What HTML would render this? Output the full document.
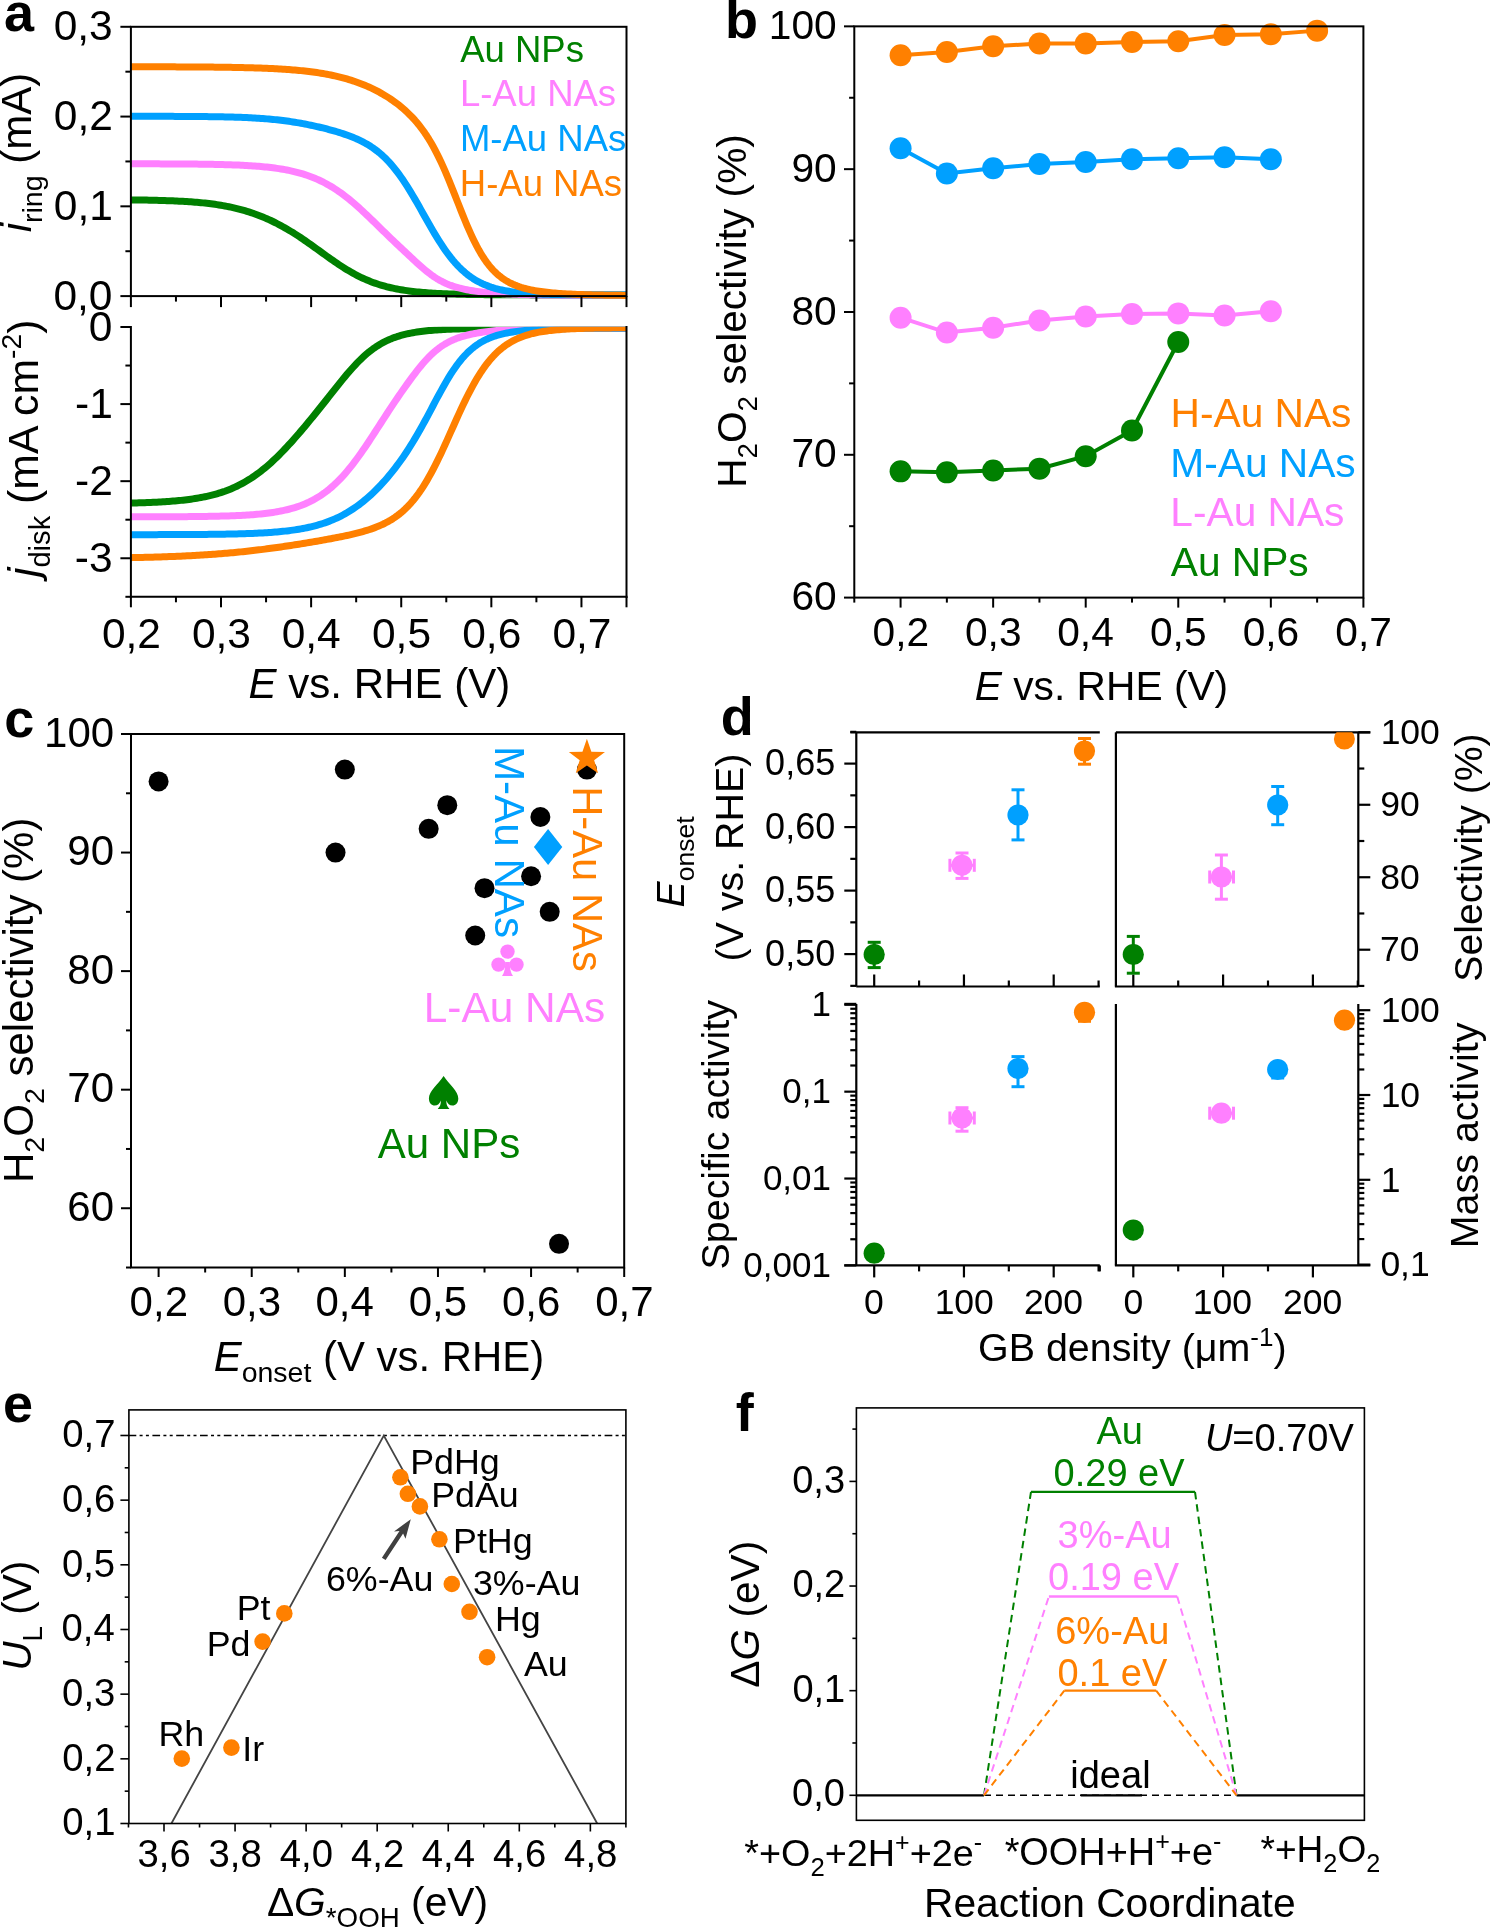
<!DOCTYPE html>
<html><head><meta charset="utf-8"><style>
html,body{margin:0;padding:0;background:#fff;width:1491px;height:1929px;overflow:hidden}
svg{display:block;will-change:transform}
text{font-family:"Liberation Sans", sans-serif}
</style></head><body>
<svg xmlns="http://www.w3.org/2000/svg" width="1491" height="1929" viewBox="0 0 1491 1929" font-family="Liberation Sans, sans-serif">
<text x="3.92" y="30.51" font-size="54" fill="#000" font-weight="bold"><tspan>a</tspan></text>
<clipPath id="ca2"><rect x="130" y="326.8" width="497" height="272"/></clipPath>
<g fill="none" stroke-linejoin="round">
<polyline points="130.9,199.89 132.9,199.91 134.9,199.94 136.9,199.96 138.9,199.99 140.9,200.02 142.9,200.05 144.9,200.08 146.9,200.12 148.9,200.16 150.9,200.2 152.9,200.24 154.9,200.29 156.9,200.34 158.9,200.39 160.9,200.44 162.9,200.5 164.9,200.56 166.9,200.63 168.9,200.7 170.9,200.78 172.9,200.86 174.9,200.94 176.9,201.04 178.9,201.13 180.9,201.24 182.9,201.35 184.9,201.46 186.9,201.59 188.9,201.72 190.9,201.86 192.9,202 194.9,202.16 196.9,202.33 198.9,202.5 200.9,202.69 202.9,202.89 204.9,203.1 206.9,203.32 208.9,203.56 210.9,203.8 212.9,204.07 214.9,204.34 216.9,204.63 218.9,204.94 220.9,205.27 222.9,205.61 224.9,205.97 226.9,206.35 228.9,206.74 230.9,207.16 232.9,207.6 234.9,208.06 236.9,208.54 238.9,209.04 240.9,209.57 242.9,210.12 244.9,210.69 246.9,211.29 248.9,211.91 250.9,212.56 252.9,213.24 254.9,213.94 256.9,214.67 258.9,215.43 260.9,216.21 262.9,217.02 264.9,217.86 266.9,218.73 268.9,219.63 270.9,220.55 272.9,221.51 274.9,222.49 276.9,223.5 278.9,224.54 280.9,225.61 282.9,226.71 284.9,227.83 286.9,228.98 288.9,230.16 290.9,231.37 292.9,232.6 294.9,233.86 296.9,235.14 298.9,236.44 300.9,237.77 302.9,239.12 304.9,240.49 306.9,241.87 308.9,243.27 310.9,244.69 312.9,246.11 314.9,247.55 316.9,248.99 318.9,250.44 320.9,251.89 322.9,253.33 324.9,254.78 326.9,256.22 328.9,257.65 330.9,259.06 332.9,260.47 334.9,261.85 336.9,263.21 338.9,264.56 340.9,265.87 342.9,267.16 344.9,268.43 346.9,269.66 348.9,270.85 350.9,272.02 352.9,273.15 354.9,274.24 356.9,275.3 358.9,276.32 360.9,277.3 362.9,278.24 364.9,279.15 366.9,280.02 368.9,280.85 370.9,281.64 372.9,282.4 374.9,283.12 376.9,283.81 378.9,284.46 380.9,285.08 382.9,285.67 384.9,286.23 386.9,286.76 388.9,287.26 390.9,287.73 392.9,288.18 394.9,288.6 396.9,289 398.9,289.37 400.9,289.72 402.9,290.05 404.9,290.36 406.9,290.66 408.9,290.93 410.9,291.19 412.9,291.43 414.9,291.66 416.9,291.87 418.9,292.07 420.9,292.26 422.9,292.44 424.9,292.6 426.9,292.75 428.9,292.9 430.9,293.03 432.9,293.16 434.9,293.28 436.9,293.39 438.9,293.49 440.9,293.59 442.9,293.68 444.9,293.76 446.9,293.84 448.9,293.91 450.9,293.98 452.9,294.04 454.9,294.1 456.9,294.16 458.9,294.21 460.9,294.26 462.9,294.31 464.9,294.35 466.9,294.39 468.9,294.42 470.9,294.46 472.9,294.49 474.9,294.52 476.9,294.55 478.9,294.58 480.9,294.6 482.9,294.62 484.9,294.64 486.9,294.66 488.9,294.68 490.9,294.7 492.9,294.72 494.9,294.73 496.9,294.74 498.9,294.76 500.9,294.77 502.9,294.78 504.9,294.79 506.9,294.8 508.9,294.81 510.9,294.82 512.9,294.83 514.9,294.83 516.9,294.84 518.9,294.85 520.9,294.85 522.9,294.86 524.9,294.87 526.9,294.87 528.9,294.87 530.9,294.88 532.9,294.88 534.9,294.89 536.9,294.89 538.9,294.89 540.9,294.9 542.9,294.9 544.9,294.9 546.9,294.9 548.9,294.91 550.9,294.91 552.9,294.91 554.9,294.91 556.9,294.91 558.9,294.92 560.9,294.92 562.9,294.92 564.9,294.92 566.9,294.92 568.9,294.92 570.9,294.92 572.9,294.92 574.9,294.93 576.9,294.93 578.9,294.93 580.9,294.93 582.9,294.93 584.9,294.93 586.9,294.93 588.9,294.93 590.9,294.93 592.9,294.93 594.9,294.93 596.9,294.93 598.9,294.93 600.9,294.93 602.9,294.93 604.9,294.93 606.9,294.93 608.9,294.93 610.9,294.93 612.9,294.93 614.9,294.93 616.9,294.94 618.9,294.94 620.9,294.94 622.9,294.94 624.9,294.94 626.5,294.94" stroke="#008000" stroke-width="7"/>
<polyline points="130.9,163.81 132.9,163.82 134.9,163.82 136.9,163.82 138.9,163.82 140.9,163.83 142.9,163.83 144.9,163.84 146.9,163.84 148.9,163.84 150.9,163.85 152.9,163.85 154.9,163.86 156.9,163.87 158.9,163.87 160.9,163.88 162.9,163.89 164.9,163.89 166.9,163.9 168.9,163.91 170.9,163.92 172.9,163.93 174.9,163.94 176.9,163.95 178.9,163.96 180.9,163.98 182.9,163.99 184.9,164 186.9,164.02 188.9,164.04 190.9,164.05 192.9,164.07 194.9,164.09 196.9,164.12 198.9,164.14 200.9,164.16 202.9,164.19 204.9,164.22 206.9,164.25 208.9,164.28 210.9,164.32 212.9,164.35 214.9,164.39 216.9,164.43 218.9,164.48 220.9,164.53 222.9,164.58 224.9,164.63 226.9,164.69 228.9,164.75 230.9,164.81 232.9,164.88 234.9,164.96 236.9,165.04 238.9,165.12 240.9,165.21 242.9,165.31 244.9,165.41 246.9,165.52 248.9,165.64 250.9,165.77 252.9,165.9 254.9,166.04 256.9,166.19 258.9,166.35 260.9,166.52 262.9,166.7 264.9,166.9 266.9,167.1 268.9,167.32 270.9,167.56 272.9,167.8 274.9,168.07 276.9,168.35 278.9,168.64 280.9,168.96 282.9,169.3 284.9,169.65 286.9,170.03 288.9,170.43 290.9,170.85 292.9,171.3 294.9,171.78 296.9,172.28 298.9,172.82 300.9,173.38 302.9,173.97 304.9,174.6 306.9,175.26 308.9,175.96 310.9,176.7 312.9,177.47 314.9,178.29 316.9,179.14 318.9,180.04 320.9,180.98 322.9,181.97 324.9,183 326.9,184.08 328.9,185.2 330.9,186.37 332.9,187.59 334.9,188.86 336.9,190.18 338.9,191.55 340.9,192.96 342.9,194.42 344.9,195.93 346.9,197.48 348.9,199.08 350.9,200.72 352.9,202.4 354.9,204.12 356.9,205.88 358.9,207.67 360.9,209.49 362.9,211.33 364.9,213.21 366.9,215.1 368.9,217.01 370.9,218.94 372.9,220.88 374.9,222.83 376.9,224.78 378.9,226.74 380.9,228.69 382.9,230.65 384.9,232.59 386.9,234.54 388.9,236.47 390.9,238.4 392.9,240.31 394.9,242.22 396.9,244.12 398.9,246.02 400.9,247.9 402.9,249.78 404.9,251.66 406.9,253.53 408.9,255.4 410.9,257.27 412.9,259.12 414.9,260.97 416.9,262.8 418.9,264.61 420.9,266.39 422.9,268.14 424.9,269.83 426.9,271.48 428.9,273.06 430.9,274.57 432.9,276.01 434.9,277.36 436.9,278.64 438.9,279.83 440.9,280.95 442.9,281.98 444.9,282.95 446.9,283.83 448.9,284.66 450.9,285.42 452.9,286.12 454.9,286.76 456.9,287.36 458.9,287.92 460.9,288.43 462.9,288.9 464.9,289.34 466.9,289.74 468.9,290.12 470.9,290.47 472.9,290.79 474.9,291.09 476.9,291.37 478.9,291.64 480.9,291.88 482.9,292.11 484.9,292.32 486.9,292.52 488.9,292.7 490.9,292.87 492.9,293.03 494.9,293.18 496.9,293.32 498.9,293.46 500.9,293.58 502.9,293.69 504.9,293.8 506.9,293.9 508.9,294 510.9,294.09 512.9,294.17 514.9,294.25 516.9,294.32 518.9,294.39 520.9,294.45 522.9,294.51 524.9,294.56 526.9,294.62 528.9,294.67 530.9,294.71 532.9,294.75 534.9,294.79 536.9,294.83 538.9,294.87 540.9,294.9 542.9,294.93 544.9,294.96 546.9,294.99 548.9,295.01 550.9,295.04 552.9,295.06 554.9,295.08 556.9,295.1 558.9,295.12 560.9,295.13 562.9,295.15 564.9,295.17 566.9,295.18 568.9,295.19 570.9,295.2 572.9,295.22 574.9,295.23 576.9,295.24 578.9,295.25 580.9,295.26 582.9,295.26 584.9,295.27 586.9,295.28 588.9,295.29 590.9,295.29 592.9,295.3 594.9,295.3 596.9,295.31 598.9,295.31 600.9,295.32 602.9,295.32 604.9,295.33 606.9,295.33 608.9,295.33 610.9,295.34 612.9,295.34 614.9,295.34 616.9,295.35 618.9,295.35 620.9,295.35 622.9,295.35 624.9,295.36 626.5,295.36" stroke="#FF80FF" stroke-width="7"/>
<polyline points="130.9,116.3 132.9,116.3 134.9,116.3 136.9,116.3 138.9,116.3 140.9,116.3 142.9,116.31 144.9,116.31 146.9,116.31 148.9,116.31 150.9,116.32 152.9,116.32 154.9,116.32 156.9,116.33 158.9,116.33 160.9,116.34 162.9,116.34 164.9,116.35 166.9,116.35 168.9,116.36 170.9,116.36 172.9,116.37 174.9,116.38 176.9,116.39 178.9,116.39 180.9,116.4 182.9,116.41 184.9,116.42 186.9,116.43 188.9,116.45 190.9,116.46 192.9,116.47 194.9,116.49 196.9,116.5 198.9,116.52 200.9,116.54 202.9,116.56 204.9,116.58 206.9,116.6 208.9,116.63 210.9,116.65 212.9,116.68 214.9,116.71 216.9,116.74 218.9,116.78 220.9,116.82 222.9,116.86 224.9,116.9 226.9,116.94 228.9,116.99 230.9,117.04 232.9,117.1 234.9,117.16 236.9,117.22 238.9,117.29 240.9,117.36 242.9,117.44 244.9,117.52 246.9,117.61 248.9,117.71 250.9,117.81 252.9,117.91 254.9,118.03 256.9,118.15 258.9,118.28 260.9,118.41 262.9,118.56 264.9,118.71 266.9,118.87 268.9,119.04 270.9,119.22 272.9,119.41 274.9,119.61 276.9,119.82 278.9,120.05 280.9,120.28 282.9,120.53 284.9,120.78 286.9,121.05 288.9,121.33 290.9,121.63 292.9,121.93 294.9,122.25 296.9,122.58 298.9,122.92 300.9,123.27 302.9,123.64 304.9,124.02 306.9,124.41 308.9,124.81 310.9,125.23 312.9,125.66 314.9,126.1 316.9,126.55 318.9,127.01 320.9,127.48 322.9,127.97 324.9,128.47 326.9,128.98 328.9,129.51 330.9,130.05 332.9,130.6 334.9,131.18 336.9,131.76 338.9,132.37 340.9,133 342.9,133.65 344.9,134.32 346.9,135.02 348.9,135.74 350.9,136.5 352.9,137.3 354.9,138.13 356.9,139 358.9,139.91 360.9,140.88 362.9,141.89 364.9,142.97 366.9,144.1 368.9,145.3 370.9,146.57 372.9,147.91 374.9,149.34 376.9,150.85 378.9,152.45 380.9,154.14 382.9,155.93 384.9,157.83 386.9,159.82 388.9,161.93 390.9,164.15 392.9,166.48 394.9,168.93 396.9,171.49 398.9,174.16 400.9,176.95 402.9,179.84 404.9,182.84 406.9,185.93 408.9,189.12 410.9,192.39 412.9,195.73 414.9,199.14 416.9,202.61 418.9,206.11 420.9,209.65 422.9,213.2 424.9,216.75 426.9,220.29 428.9,223.81 430.9,227.29 432.9,230.72 434.9,234.09 436.9,237.39 438.9,240.6 440.9,243.72 442.9,246.75 444.9,249.67 446.9,252.48 448.9,255.17 450.9,257.75 452.9,260.21 454.9,262.55 456.9,264.77 458.9,266.87 460.9,268.85 462.9,270.72 464.9,272.48 466.9,274.13 468.9,275.67 470.9,277.12 472.9,278.47 474.9,279.73 476.9,280.9 478.9,281.99 480.9,283 482.9,283.95 484.9,284.82 486.9,285.62 488.9,286.37 490.9,287.06 492.9,287.7 494.9,288.29 496.9,288.83 498.9,289.33 500.9,289.8 502.9,290.22 504.9,290.61 506.9,290.97 508.9,291.31 510.9,291.61 512.9,291.89 514.9,292.15 516.9,292.39 518.9,292.6 520.9,292.8 522.9,292.99 524.9,293.16 526.9,293.31 528.9,293.45 530.9,293.58 532.9,293.7 534.9,293.81 536.9,293.91 538.9,294 540.9,294.09 542.9,294.17 544.9,294.24 546.9,294.3 548.9,294.36 550.9,294.42 552.9,294.47 554.9,294.51 556.9,294.55 558.9,294.59 560.9,294.63 562.9,294.66 564.9,294.69 566.9,294.72 568.9,294.74 570.9,294.76 572.9,294.79 574.9,294.8 576.9,294.82 578.9,294.84 580.9,294.85 582.9,294.87 584.9,294.88 586.9,294.89 588.9,294.9 590.9,294.91 592.9,294.92 594.9,294.93 596.9,294.93 598.9,294.94 600.9,294.95 602.9,294.95 604.9,294.96 606.9,294.96 608.9,294.97 610.9,294.97 612.9,294.97 614.9,294.98 616.9,294.98 618.9,294.98 620.9,294.99 622.9,294.99 624.9,294.99 626.5,294.99" stroke="#00A0FF" stroke-width="7"/>
<polyline points="130.9,66.77 132.9,66.77 134.9,66.78 136.9,66.78 138.9,66.78 140.9,66.79 142.9,66.79 144.9,66.79 146.9,66.8 148.9,66.8 150.9,66.8 152.9,66.81 154.9,66.81 156.9,66.82 158.9,66.82 160.9,66.83 162.9,66.83 164.9,66.84 166.9,66.84 168.9,66.85 170.9,66.85 172.9,66.86 174.9,66.87 176.9,66.88 178.9,66.88 180.9,66.89 182.9,66.9 184.9,66.91 186.9,66.92 188.9,66.93 190.9,66.94 192.9,66.96 194.9,66.97 196.9,66.98 198.9,66.99 200.9,67.01 202.9,67.02 204.9,67.04 206.9,67.06 208.9,67.08 210.9,67.09 212.9,67.11 214.9,67.14 216.9,67.16 218.9,67.18 220.9,67.21 222.9,67.23 224.9,67.26 226.9,67.29 228.9,67.32 230.9,67.35 232.9,67.38 234.9,67.42 236.9,67.46 238.9,67.5 240.9,67.54 242.9,67.58 244.9,67.63 246.9,67.68 248.9,67.73 250.9,67.79 252.9,67.84 254.9,67.9 256.9,67.97 258.9,68.03 260.9,68.1 262.9,68.18 264.9,68.26 266.9,68.34 268.9,68.43 270.9,68.52 272.9,68.61 274.9,68.72 276.9,68.82 278.9,68.94 280.9,69.05 282.9,69.18 284.9,69.31 286.9,69.45 288.9,69.59 290.9,69.74 292.9,69.9 294.9,70.07 296.9,70.25 298.9,70.44 300.9,70.63 302.9,70.84 304.9,71.05 306.9,71.28 308.9,71.52 310.9,71.77 312.9,72.03 314.9,72.31 316.9,72.59 318.9,72.9 320.9,73.21 322.9,73.55 324.9,73.9 326.9,74.26 328.9,74.64 330.9,75.04 332.9,75.46 334.9,75.9 336.9,76.36 338.9,76.83 340.9,77.33 342.9,77.86 344.9,78.4 346.9,78.97 348.9,79.56 350.9,80.18 352.9,80.82 354.9,81.49 356.9,82.19 358.9,82.92 360.9,83.68 362.9,84.46 364.9,85.28 366.9,86.13 368.9,87.02 370.9,87.93 372.9,88.89 374.9,89.87 376.9,90.9 378.9,91.96 380.9,93.07 382.9,94.21 384.9,95.4 386.9,96.64 388.9,97.92 390.9,99.24 392.9,100.62 394.9,102.06 396.9,103.55 398.9,105.1 400.9,106.72 402.9,108.4 404.9,110.15 406.9,111.99 408.9,113.91 410.9,115.91 412.9,118.02 414.9,120.22 416.9,122.54 418.9,124.97 420.9,127.54 422.9,130.23 424.9,133.08 426.9,136.07 428.9,139.22 430.9,142.54 432.9,146.04 434.9,149.7 436.9,153.55 438.9,157.58 440.9,161.78 442.9,166.15 444.9,170.68 446.9,175.36 448.9,180.16 450.9,185.08 452.9,190.08 454.9,195.14 456.9,200.22 458.9,205.31 460.9,210.37 462.9,215.36 464.9,220.26 466.9,225.04 468.9,229.68 470.9,234.15 472.9,238.44 474.9,242.54 476.9,246.42 478.9,250.09 480.9,253.54 482.9,256.78 484.9,259.79 486.9,262.6 488.9,265.21 490.9,267.62 492.9,269.85 494.9,271.9 496.9,273.79 498.9,275.52 500.9,277.11 502.9,278.57 504.9,279.91 506.9,281.14 508.9,282.26 510.9,283.28 512.9,284.22 514.9,285.08 516.9,285.87 518.9,286.59 520.9,287.26 522.9,287.87 524.9,288.42 526.9,288.94 528.9,289.41 530.9,289.84 532.9,290.24 534.9,290.61 536.9,290.96 538.9,291.27 540.9,291.56 542.9,291.83 544.9,292.08 546.9,292.31 548.9,292.53 550.9,292.73 552.9,292.92 554.9,293.09 556.9,293.25 558.9,293.4 560.9,293.54 562.9,293.67 564.9,293.8 566.9,293.91 568.9,294.02 570.9,294.12 572.9,294.21 574.9,294.3 576.9,294.39 578.9,294.47 580.9,294.54 582.9,294.61 584.9,294.67 586.9,294.73 588.9,294.79 590.9,294.85 592.9,294.9 594.9,294.95 596.9,294.99 598.9,295.03 600.9,295.07 602.9,295.11 604.9,295.15 606.9,295.18 608.9,295.22 610.9,295.25 612.9,295.27 614.9,295.3 616.9,295.33 618.9,295.35 620.9,295.37 622.9,295.4 624.9,295.42 626.5,295.43" stroke="#FF8000" stroke-width="7"/>
<polyline points="130.9,503.03 132.9,502.98 134.9,502.93 136.9,502.88 138.9,502.83 140.9,502.77 142.9,502.7 144.9,502.64 146.9,502.57 148.9,502.49 150.9,502.41 152.9,502.33 154.9,502.23 156.9,502.14 158.9,502.03 160.9,501.93 162.9,501.81 164.9,501.69 166.9,501.55 168.9,501.41 170.9,501.27 172.9,501.11 174.9,500.94 176.9,500.76 178.9,500.57 180.9,500.37 182.9,500.16 184.9,499.93 186.9,499.69 188.9,499.44 190.9,499.17 192.9,498.88 194.9,498.57 196.9,498.25 198.9,497.91 200.9,497.55 202.9,497.17 204.9,496.76 206.9,496.33 208.9,495.88 210.9,495.4 212.9,494.89 214.9,494.36 216.9,493.79 218.9,493.2 220.9,492.57 222.9,491.9 224.9,491.21 226.9,490.47 228.9,489.7 230.9,488.89 232.9,488.04 234.9,487.14 236.9,486.21 238.9,485.23 240.9,484.2 242.9,483.12 244.9,482 246.9,480.83 248.9,479.61 250.9,478.34 252.9,477.01 254.9,475.64 256.9,474.21 258.9,472.73 260.9,471.2 262.9,469.62 264.9,467.99 266.9,466.3 268.9,464.57 270.9,462.78 272.9,460.95 274.9,459.07 276.9,457.15 278.9,455.18 280.9,453.16 282.9,451.11 284.9,449.02 286.9,446.89 288.9,444.73 290.9,442.53 292.9,440.31 294.9,438.05 296.9,435.77 298.9,433.46 300.9,431.12 302.9,428.77 304.9,426.39 306.9,424 308.9,421.58 310.9,419.15 312.9,416.7 314.9,414.24 316.9,411.76 318.9,409.27 320.9,406.77 322.9,404.26 324.9,401.73 326.9,399.21 328.9,396.68 330.9,394.14 332.9,391.61 334.9,389.09 336.9,386.58 338.9,384.08 340.9,381.6 342.9,379.15 344.9,376.72 346.9,374.34 348.9,371.99 350.9,369.7 352.9,367.46 354.9,365.28 356.9,363.16 358.9,361.12 360.9,359.14 362.9,357.24 364.9,355.42 366.9,353.68 368.9,352.02 370.9,350.45 372.9,348.95 374.9,347.54 376.9,346.2 378.9,344.95 380.9,343.76 382.9,342.66 384.9,341.62 386.9,340.65 388.9,339.74 390.9,338.89 392.9,338.11 394.9,337.37 396.9,336.69 398.9,336.06 400.9,335.47 402.9,334.93 404.9,334.42 406.9,333.95 408.9,333.52 410.9,333.11 412.9,332.74 414.9,332.4 416.9,332.08 418.9,331.78 420.9,331.51 422.9,331.26 424.9,331.02 426.9,330.81 428.9,330.6 430.9,330.42 432.9,330.25 434.9,330.09 436.9,329.94 438.9,329.8 440.9,329.68 442.9,329.56 444.9,329.45 446.9,329.35 448.9,329.26 450.9,329.17 452.9,329.09 454.9,329.01 456.9,328.94 458.9,328.88 460.9,328.82 462.9,328.77 464.9,328.71 466.9,328.67 468.9,328.62 470.9,328.58 472.9,328.54 474.9,328.5 476.9,328.47 478.9,328.44 480.9,328.41 482.9,328.38 484.9,328.36 486.9,328.34 488.9,328.31 490.9,328.29 492.9,328.27 494.9,328.26 496.9,328.24 498.9,328.23 500.9,328.21 502.9,328.2 504.9,328.19 506.9,328.17 508.9,328.16 510.9,328.15 512.9,328.14 514.9,328.13 516.9,328.13 518.9,328.12 520.9,328.11 522.9,328.1 524.9,328.1 526.9,328.09 528.9,328.09 530.9,328.08 532.9,328.08 534.9,328.07 536.9,328.07 538.9,328.06 540.9,328.06 542.9,328.06 544.9,328.05 546.9,328.05 548.9,328.05 550.9,328.04 552.9,328.04 554.9,328.04 556.9,328.04 558.9,328.04 560.9,328.03 562.9,328.03 564.9,328.03 566.9,328.03 568.9,328.03 570.9,328.03 572.9,328.02 574.9,328.02 576.9,328.02 578.9,328.02 580.9,328.02 582.9,328.02 584.9,328.02 586.9,328.02 588.9,328.02 590.9,328.02 592.9,328.01 594.9,328.01 596.9,328.01 598.9,328.01 600.9,328.01 602.9,328.01 604.9,328.01 606.9,328.01 608.9,328.01 610.9,328.01 612.9,328.01 614.9,328.01 616.9,328.01 618.9,328.01 620.9,328.01 622.9,328.01 624.9,328.01 626.5,328.01" stroke="#008000" stroke-width="7" clip-path="url(#ca2)"/>
<polyline points="130.9,516.81 132.9,516.81 134.9,516.81 136.9,516.81 138.9,516.8 140.9,516.8 142.9,516.8 144.9,516.79 146.9,516.79 148.9,516.79 150.9,516.78 152.9,516.78 154.9,516.77 156.9,516.77 158.9,516.76 160.9,516.76 162.9,516.75 164.9,516.74 166.9,516.74 168.9,516.73 170.9,516.72 172.9,516.71 174.9,516.7 176.9,516.69 178.9,516.68 180.9,516.67 182.9,516.66 184.9,516.64 186.9,516.63 188.9,516.61 190.9,516.59 192.9,516.58 194.9,516.56 196.9,516.53 198.9,516.51 200.9,516.49 202.9,516.46 204.9,516.43 206.9,516.4 208.9,516.37 210.9,516.34 212.9,516.3 214.9,516.26 216.9,516.22 218.9,516.17 220.9,516.12 222.9,516.07 224.9,516.02 226.9,515.96 228.9,515.89 230.9,515.82 232.9,515.75 234.9,515.67 236.9,515.58 238.9,515.49 240.9,515.39 242.9,515.29 244.9,515.17 246.9,515.05 248.9,514.92 250.9,514.79 252.9,514.64 254.9,514.48 256.9,514.31 258.9,514.13 260.9,513.93 262.9,513.72 264.9,513.5 266.9,513.26 268.9,513 270.9,512.73 272.9,512.43 274.9,512.12 276.9,511.79 278.9,511.43 280.9,511.05 282.9,510.64 284.9,510.2 286.9,509.74 288.9,509.24 290.9,508.71 292.9,508.14 294.9,507.54 296.9,506.9 298.9,506.22 300.9,505.5 302.9,504.72 304.9,503.9 306.9,503.03 308.9,502.11 310.9,501.13 312.9,500.1 314.9,499 316.9,497.84 318.9,496.61 320.9,495.32 322.9,493.96 324.9,492.52 326.9,491.01 328.9,489.42 330.9,487.75 332.9,486.01 334.9,484.18 336.9,482.27 338.9,480.28 340.9,478.21 342.9,476.05 344.9,473.81 346.9,471.5 348.9,469.1 350.9,466.62 352.9,464.07 354.9,461.45 356.9,458.76 358.9,456.01 360.9,453.19 362.9,450.32 364.9,447.41 366.9,444.44 368.9,441.44 370.9,438.41 372.9,435.35 374.9,432.28 376.9,429.19 378.9,426.09 380.9,422.99 382.9,419.9 384.9,416.81 386.9,413.74 388.9,410.68 390.9,407.65 392.9,404.64 394.9,401.65 396.9,398.7 398.9,395.77 400.9,392.87 402.9,390 404.9,387.16 406.9,384.36 408.9,381.59 410.9,378.86 412.9,376.17 414.9,373.53 416.9,370.94 418.9,368.42 420.9,365.96 422.9,363.59 424.9,361.3 426.9,359.1 428.9,357.01 430.9,355.02 432.9,353.14 434.9,351.37 436.9,349.71 438.9,348.16 440.9,346.71 442.9,345.37 444.9,344.12 446.9,342.97 448.9,341.9 450.9,340.91 452.9,339.99 454.9,339.14 456.9,338.36 458.9,337.63 460.9,336.96 462.9,336.34 464.9,335.77 466.9,335.23 468.9,334.74 470.9,334.28 472.9,333.86 474.9,333.46 476.9,333.1 478.9,332.76 480.9,332.44 482.9,332.15 484.9,331.88 486.9,331.62 488.9,331.39 490.9,331.17 492.9,330.97 494.9,330.78 496.9,330.6 498.9,330.43 500.9,330.28 502.9,330.14 504.9,330.01 506.9,329.88 508.9,329.77 510.9,329.66 512.9,329.56 514.9,329.47 516.9,329.38 518.9,329.3 520.9,329.22 522.9,329.15 524.9,329.09 526.9,329.03 528.9,328.97 530.9,328.92 532.9,328.87 534.9,328.82 536.9,328.78 538.9,328.74 540.9,328.7 542.9,328.66 544.9,328.63 546.9,328.6 548.9,328.57 550.9,328.55 552.9,328.52 554.9,328.5 556.9,328.48 558.9,328.46 560.9,328.44 562.9,328.42 564.9,328.41 566.9,328.39 568.9,328.38 570.9,328.37 572.9,328.35 574.9,328.34 576.9,328.33 578.9,328.32 580.9,328.31 582.9,328.31 584.9,328.3 586.9,328.29 588.9,328.28 590.9,328.28 592.9,328.27 594.9,328.27 596.9,328.26 598.9,328.26 600.9,328.25 602.9,328.25 604.9,328.24 606.9,328.24 608.9,328.24 610.9,328.23 612.9,328.23 614.9,328.23 616.9,328.22 618.9,328.22 620.9,328.22 622.9,328.22 624.9,328.22 626.5,328.21" stroke="#FF80FF" stroke-width="7" clip-path="url(#ca2)"/>
<polyline points="130.9,534.66 132.9,534.66 134.9,534.66 136.9,534.66 138.9,534.65 140.9,534.65 142.9,534.65 144.9,534.65 146.9,534.64 148.9,534.64 150.9,534.64 152.9,534.64 154.9,534.63 156.9,534.63 158.9,534.62 160.9,534.62 162.9,534.61 164.9,534.61 166.9,534.6 168.9,534.6 170.9,534.59 172.9,534.59 174.9,534.58 176.9,534.57 178.9,534.56 180.9,534.56 182.9,534.55 184.9,534.54 186.9,534.53 188.9,534.52 190.9,534.51 192.9,534.49 194.9,534.48 196.9,534.47 198.9,534.45 200.9,534.44 202.9,534.42 204.9,534.4 206.9,534.38 208.9,534.36 210.9,534.34 212.9,534.32 214.9,534.3 216.9,534.27 218.9,534.24 220.9,534.21 222.9,534.18 224.9,534.15 226.9,534.11 228.9,534.08 230.9,534.04 232.9,533.99 234.9,533.95 236.9,533.9 238.9,533.85 240.9,533.79 242.9,533.73 244.9,533.67 246.9,533.61 248.9,533.54 250.9,533.46 252.9,533.38 254.9,533.3 256.9,533.2 258.9,533.11 260.9,533.01 262.9,532.9 264.9,532.78 266.9,532.66 268.9,532.53 270.9,532.39 272.9,532.24 274.9,532.08 276.9,531.91 278.9,531.73 280.9,531.54 282.9,531.34 284.9,531.13 286.9,530.9 288.9,530.66 290.9,530.4 292.9,530.13 294.9,529.84 296.9,529.54 298.9,529.21 300.9,528.87 302.9,528.51 304.9,528.12 306.9,527.71 308.9,527.28 310.9,526.82 312.9,526.34 314.9,525.83 316.9,525.29 318.9,524.72 320.9,524.11 322.9,523.48 324.9,522.81 326.9,522.1 328.9,521.36 330.9,520.58 332.9,519.76 334.9,518.89 336.9,517.99 338.9,517.04 340.9,516.04 342.9,514.99 344.9,513.9 346.9,512.76 348.9,511.57 350.9,510.32 352.9,509.02 354.9,507.67 356.9,506.26 358.9,504.8 360.9,503.28 362.9,501.7 364.9,500.07 366.9,498.38 368.9,496.63 370.9,494.82 372.9,492.95 374.9,491.02 376.9,489.03 378.9,486.98 380.9,484.87 382.9,482.7 384.9,480.47 386.9,478.18 388.9,475.82 390.9,473.39 392.9,470.9 394.9,468.34 396.9,465.72 398.9,463.02 400.9,460.25 402.9,457.4 404.9,454.48 406.9,451.48 408.9,448.4 410.9,445.24 412.9,442 414.9,438.68 416.9,435.29 418.9,431.82 420.9,428.28 422.9,424.67 424.9,421.01 426.9,417.3 428.9,413.56 430.9,409.79 432.9,406 434.9,402.23 436.9,398.46 438.9,394.74 440.9,391.06 442.9,387.46 444.9,383.93 446.9,380.5 448.9,377.17 450.9,373.97 452.9,370.89 454.9,367.95 456.9,365.15 458.9,362.49 460.9,359.98 462.9,357.61 464.9,355.39 466.9,353.32 468.9,351.38 470.9,349.57 472.9,347.89 474.9,346.33 476.9,344.89 478.9,343.56 480.9,342.32 482.9,341.19 484.9,340.14 486.9,339.18 488.9,338.3 490.9,337.48 492.9,336.74 494.9,336.05 496.9,335.42 498.9,334.84 500.9,334.31 502.9,333.83 504.9,333.38 506.9,332.97 508.9,332.59 510.9,332.25 512.9,331.93 514.9,331.64 516.9,331.37 518.9,331.12 520.9,330.89 522.9,330.68 524.9,330.49 526.9,330.31 528.9,330.15 530.9,330 532.9,329.86 534.9,329.73 536.9,329.62 538.9,329.51 540.9,329.4 542.9,329.31 544.9,329.23 546.9,329.15 548.9,329.07 550.9,329 552.9,328.94 554.9,328.88 556.9,328.83 558.9,328.78 560.9,328.73 562.9,328.68 564.9,328.64 566.9,328.61 568.9,328.57 570.9,328.54 572.9,328.51 574.9,328.48 576.9,328.45 578.9,328.43 580.9,328.41 582.9,328.39 584.9,328.37 586.9,328.35 588.9,328.33 590.9,328.31 592.9,328.3 594.9,328.29 596.9,328.27 598.9,328.26 600.9,328.25 602.9,328.24 604.9,328.23 606.9,328.22 608.9,328.21 610.9,328.2 612.9,328.2 614.9,328.19 616.9,328.18 618.9,328.18 620.9,328.17 622.9,328.16 624.9,328.16 626.5,328.16" stroke="#00A0FF" stroke-width="7" clip-path="url(#ca2)"/>
<polyline points="130.9,557.65 132.9,557.61 134.9,557.57 136.9,557.53 138.9,557.48 140.9,557.44 142.9,557.39 144.9,557.34 146.9,557.29 148.9,557.24 150.9,557.19 152.9,557.13 154.9,557.07 156.9,557.02 158.9,556.95 160.9,556.89 162.9,556.83 164.9,556.76 166.9,556.69 168.9,556.61 170.9,556.54 172.9,556.46 174.9,556.38 176.9,556.3 178.9,556.22 180.9,556.13 182.9,556.04 184.9,555.94 186.9,555.85 188.9,555.75 190.9,555.64 192.9,555.54 194.9,555.43 196.9,555.32 198.9,555.2 200.9,555.08 202.9,554.96 204.9,554.83 206.9,554.7 208.9,554.57 210.9,554.43 212.9,554.29 214.9,554.14 216.9,553.99 218.9,553.84 220.9,553.68 222.9,553.52 224.9,553.35 226.9,553.18 228.9,553.01 230.9,552.83 232.9,552.65 234.9,552.46 236.9,552.27 238.9,552.07 240.9,551.87 242.9,551.66 244.9,551.45 246.9,551.24 248.9,551.02 250.9,550.79 252.9,550.56 254.9,550.33 256.9,550.09 258.9,549.85 260.9,549.61 262.9,549.36 264.9,549.1 266.9,548.84 268.9,548.58 270.9,548.31 272.9,548.04 274.9,547.77 276.9,547.49 278.9,547.2 280.9,546.92 282.9,546.63 284.9,546.33 286.9,546.03 288.9,545.73 290.9,545.43 292.9,545.12 294.9,544.81 296.9,544.5 298.9,544.18 300.9,543.86 302.9,543.54 304.9,543.21 306.9,542.88 308.9,542.55 310.9,542.22 312.9,541.88 314.9,541.54 316.9,541.2 318.9,540.85 320.9,540.5 322.9,540.15 324.9,539.79 326.9,539.43 328.9,539.06 330.9,538.69 332.9,538.31 334.9,537.93 336.9,537.54 338.9,537.15 340.9,536.75 342.9,536.34 344.9,535.92 346.9,535.49 348.9,535.05 350.9,534.6 352.9,534.13 354.9,533.65 356.9,533.16 358.9,532.64 360.9,532.11 362.9,531.55 364.9,530.97 366.9,530.37 368.9,529.73 370.9,529.07 372.9,528.37 374.9,527.63 376.9,526.85 378.9,526.03 380.9,525.16 382.9,524.24 384.9,523.26 386.9,522.22 388.9,521.11 390.9,519.93 392.9,518.68 394.9,517.35 396.9,515.93 398.9,514.41 400.9,512.8 402.9,511.09 404.9,509.26 406.9,507.32 408.9,505.26 410.9,503.07 412.9,500.76 414.9,498.3 416.9,495.71 418.9,492.97 420.9,490.09 422.9,487.06 424.9,483.89 426.9,480.57 428.9,477.11 430.9,473.51 432.9,469.77 434.9,465.91 436.9,461.92 438.9,457.83 440.9,453.64 442.9,449.36 444.9,445.01 446.9,440.6 448.9,436.15 450.9,431.68 452.9,427.21 454.9,422.74 456.9,418.3 458.9,413.9 460.9,409.56 462.9,405.3 464.9,401.13 466.9,397.05 468.9,393.1 470.9,389.26 472.9,385.56 474.9,381.99 476.9,378.57 478.9,375.3 480.9,372.18 482.9,369.21 484.9,366.39 486.9,363.72 488.9,361.2 490.9,358.82 492.9,356.59 494.9,354.49 496.9,352.52 498.9,350.68 500.9,348.97 502.9,347.36 504.9,345.87 506.9,344.48 508.9,343.19 510.9,341.99 512.9,340.88 514.9,339.85 516.9,338.9 518.9,338.02 520.9,337.2 522.9,336.45 524.9,335.76 526.9,335.11 528.9,334.52 530.9,333.98 532.9,333.47 534.9,333.01 536.9,332.59 538.9,332.19 540.9,331.83 542.9,331.5 544.9,331.19 546.9,330.91 548.9,330.65 550.9,330.41 552.9,330.19 554.9,329.99 556.9,329.81 558.9,329.64 560.9,329.48 562.9,329.34 564.9,329.2 566.9,329.08 568.9,328.97 570.9,328.86 572.9,328.77 574.9,328.68 576.9,328.6 578.9,328.53 580.9,328.46 582.9,328.4 584.9,328.34 586.9,328.28 588.9,328.23 590.9,328.19 592.9,328.15 594.9,328.11 596.9,328.07 598.9,328.04 600.9,328.01 602.9,327.98 604.9,327.96 606.9,327.93 608.9,327.91 610.9,327.89 612.9,327.87 614.9,327.85 616.9,327.84 618.9,327.82 620.9,327.81 622.9,327.79 624.9,327.78 626.5,327.77" stroke="#FF8000" stroke-width="7" clip-path="url(#ca2)"/>
</g>
<rect x="130.9" y="26.8" width="495.6" height="269.3" fill="none" stroke="#000" stroke-width="2"/>
<line x1="130.9" y1="326" x2="130.9" y2="597.8" stroke="#000" stroke-width="2" />
<line x1="626.5" y1="326" x2="626.5" y2="597.8" stroke="#000" stroke-width="2" />
<line x1="129.9" y1="596.8" x2="627.5" y2="596.8" stroke="#000" stroke-width="2" />
<line x1="120.4" y1="296.1" x2="130.9" y2="296.1" stroke="#000" stroke-width="2" />
<text x="53.42" y="309.69" font-size="42.5" fill="#000"><tspan>0,0</tspan></text>
<line x1="120.4" y1="206.33" x2="130.9" y2="206.33" stroke="#000" stroke-width="2" />
<text x="53.85" y="219.92" font-size="42.5" fill="#000"><tspan>0,1</tspan></text>
<line x1="120.4" y1="116.57" x2="130.9" y2="116.57" stroke="#000" stroke-width="2" />
<text x="53.85" y="130.15" font-size="42.5" fill="#000"><tspan>0,2</tspan></text>
<line x1="120.4" y1="26.8" x2="130.9" y2="26.8" stroke="#000" stroke-width="2" />
<text x="53.64" y="40.39" font-size="42.5" fill="#000"><tspan>0,3</tspan></text>
<line x1="125.4" y1="251.22" x2="130.9" y2="251.22" stroke="#000" stroke-width="2" />
<line x1="125.4" y1="161.45" x2="130.9" y2="161.45" stroke="#000" stroke-width="2" />
<line x1="125.4" y1="71.68" x2="130.9" y2="71.68" stroke="#000" stroke-width="2" />
<line x1="130.9" y1="296.1" x2="130.9" y2="307.1" stroke="#000" stroke-width="2" />
<line x1="221.01" y1="296.1" x2="221.01" y2="307.1" stroke="#000" stroke-width="2" />
<line x1="311.12" y1="296.1" x2="311.12" y2="307.1" stroke="#000" stroke-width="2" />
<line x1="401.23" y1="296.1" x2="401.23" y2="307.1" stroke="#000" stroke-width="2" />
<line x1="491.34" y1="296.1" x2="491.34" y2="307.1" stroke="#000" stroke-width="2" />
<line x1="581.45" y1="296.1" x2="581.45" y2="307.1" stroke="#000" stroke-width="2" />
<line x1="175.95" y1="296.1" x2="175.95" y2="301.6" stroke="#000" stroke-width="2" />
<line x1="266.06" y1="296.1" x2="266.06" y2="301.6" stroke="#000" stroke-width="2" />
<line x1="356.17" y1="296.1" x2="356.17" y2="301.6" stroke="#000" stroke-width="2" />
<line x1="446.28" y1="296.1" x2="446.28" y2="301.6" stroke="#000" stroke-width="2" />
<line x1="536.39" y1="296.1" x2="536.39" y2="301.6" stroke="#000" stroke-width="2" />
<line x1="626.5" y1="296.1" x2="626.5" y2="307.1" stroke="#000" stroke-width="2" />
<line x1="120.4" y1="327" x2="130.9" y2="327" stroke="#000" stroke-width="2" />
<text x="88.81" y="341.09" font-size="42.5" fill="#000"><tspan>0</tspan></text>
<line x1="120.4" y1="404.09" x2="130.9" y2="404.09" stroke="#000" stroke-width="2" />
<text x="75" y="418.17" font-size="42.5" fill="#000"><tspan>-1</tspan></text>
<line x1="120.4" y1="481.17" x2="130.9" y2="481.17" stroke="#000" stroke-width="2" />
<text x="75" y="495.26" font-size="42.5" fill="#000"><tspan>-2</tspan></text>
<line x1="120.4" y1="558.26" x2="130.9" y2="558.26" stroke="#000" stroke-width="2" />
<text x="74.79" y="572.34" font-size="42.5" fill="#000"><tspan>-3</tspan></text>
<line x1="125.4" y1="365.54" x2="130.9" y2="365.54" stroke="#000" stroke-width="2" />
<line x1="125.4" y1="442.63" x2="130.9" y2="442.63" stroke="#000" stroke-width="2" />
<line x1="125.4" y1="519.71" x2="130.9" y2="519.71" stroke="#000" stroke-width="2" />
<line x1="125.4" y1="596.8" x2="130.9" y2="596.8" stroke="#000" stroke-width="2" />
<line x1="130.9" y1="596.8" x2="130.9" y2="607.3" stroke="#000" stroke-width="2" />
<text x="101.88" y="647.55" font-size="42.5" fill="#000"><tspan>0,2</tspan></text>
<line x1="221.01" y1="596.8" x2="221.01" y2="607.3" stroke="#000" stroke-width="2" />
<text x="191.88" y="647.55" font-size="42.5" fill="#000"><tspan>0,3</tspan></text>
<line x1="311.12" y1="596.8" x2="311.12" y2="607.3" stroke="#000" stroke-width="2" />
<text x="281.67" y="647.55" font-size="42.5" fill="#000"><tspan>0,4</tspan></text>
<line x1="401.23" y1="596.8" x2="401.23" y2="607.3" stroke="#000" stroke-width="2" />
<text x="371.99" y="647.55" font-size="42.5" fill="#000"><tspan>0,5</tspan></text>
<line x1="491.34" y1="596.8" x2="491.34" y2="607.3" stroke="#000" stroke-width="2" />
<text x="462.21" y="647.55" font-size="42.5" fill="#000"><tspan>0,6</tspan></text>
<line x1="581.45" y1="596.8" x2="581.45" y2="607.3" stroke="#000" stroke-width="2" />
<text x="552.42" y="647.55" font-size="42.5" fill="#000"><tspan>0,7</tspan></text>
<line x1="175.95" y1="596.8" x2="175.95" y2="602.3" stroke="#000" stroke-width="2" />
<line x1="266.06" y1="596.8" x2="266.06" y2="602.3" stroke="#000" stroke-width="2" />
<line x1="356.17" y1="596.8" x2="356.17" y2="602.3" stroke="#000" stroke-width="2" />
<line x1="446.28" y1="596.8" x2="446.28" y2="602.3" stroke="#000" stroke-width="2" />
<line x1="536.39" y1="596.8" x2="536.39" y2="602.3" stroke="#000" stroke-width="2" />
<line x1="626.5" y1="596.8" x2="626.5" y2="607.3" stroke="#000" stroke-width="2" />
<text x="460.23" y="62.31" font-size="36.5" fill="#008000"><tspan>Au NPs</tspan></text>
<text x="459.91" y="106.36" font-size="36.5" fill="#FF80FF"><tspan>L-Au NAs</tspan></text>
<text x="459.95" y="151.21" font-size="36.5" fill="#00A0FF"><tspan>M-Au NAs</tspan></text>
<text x="459.81" y="196.01" font-size="36.5" fill="#FF8000"><tspan>H-Au NAs</tspan></text>
<text x="30.66" y="232.33" font-size="41.99" fill="#000" transform="rotate(-90 30.66 232.33)"><tspan font-style="italic">i</tspan><tspan font-size="28.55" dy="11.34">ring</tspan><tspan dy="-11.34"> (mA)</tspan></text>
<text x="38.41" y="577.09" font-size="42.8" fill="#000" transform="rotate(-90 38.41 577.09)"><tspan font-style="italic">j</tspan><tspan font-size="29.11" dy="11.56">disk</tspan><tspan dy="-11.56"> (mA cm</tspan><tspan font-size="28.25" dy="-17.12">-2</tspan><tspan dy="17.12">)</tspan></text>
<text x="248.54" y="697.73" font-size="42.06" fill="#000"><tspan font-style="italic">E</tspan><tspan> vs. RHE (V)</tspan></text>
<text x="725.01" y="38.25" font-size="54" fill="#000" font-weight="bold"><tspan>b</tspan></text>
<polyline points="900.58,55.34 946.86,52.06 993.15,46.34 1039.43,43.49 1085.71,43.49 1131.99,42.06 1178.27,41.2 1224.55,34.92 1270.84,34.2 1317.12,30.63" fill="none" stroke="#FF8000" stroke-width="4"/>
<circle cx="900.58" cy="55.34" r="11" fill="#FF8000"/>
<circle cx="946.86" cy="52.06" r="11" fill="#FF8000"/>
<circle cx="993.15" cy="46.34" r="11" fill="#FF8000"/>
<circle cx="1039.43" cy="43.49" r="11" fill="#FF8000"/>
<circle cx="1085.71" cy="43.49" r="11" fill="#FF8000"/>
<circle cx="1131.99" cy="42.06" r="11" fill="#FF8000"/>
<circle cx="1178.27" cy="41.2" r="11" fill="#FF8000"/>
<circle cx="1224.55" cy="34.92" r="11" fill="#FF8000"/>
<circle cx="1270.84" cy="34.2" r="11" fill="#FF8000"/>
<circle cx="1317.12" cy="30.63" r="11" fill="#FF8000"/>
<polyline points="900.58,148.17 946.86,173.45 993.15,168.31 1039.43,164.02 1085.71,162.02 1131.99,159.31 1178.27,158.17 1224.55,157.17 1270.84,159.17" fill="none" stroke="#00A0FF" stroke-width="4"/>
<circle cx="900.58" cy="148.17" r="11" fill="#00A0FF"/>
<circle cx="946.86" cy="173.45" r="11" fill="#00A0FF"/>
<circle cx="993.15" cy="168.31" r="11" fill="#00A0FF"/>
<circle cx="1039.43" cy="164.02" r="11" fill="#00A0FF"/>
<circle cx="1085.71" cy="162.02" r="11" fill="#00A0FF"/>
<circle cx="1131.99" cy="159.31" r="11" fill="#00A0FF"/>
<circle cx="1178.27" cy="158.17" r="11" fill="#00A0FF"/>
<circle cx="1224.55" cy="157.17" r="11" fill="#00A0FF"/>
<circle cx="1270.84" cy="159.17" r="11" fill="#00A0FF"/>
<polyline points="900.58,317.69 946.86,332.54 993.15,327.68 1039.43,320.54 1085.71,316.54 1131.99,313.97 1178.27,313.4 1224.55,315.55 1270.84,311.26" fill="none" stroke="#FF80FF" stroke-width="4"/>
<circle cx="900.58" cy="317.69" r="11" fill="#FF80FF"/>
<circle cx="946.86" cy="332.54" r="11" fill="#FF80FF"/>
<circle cx="993.15" cy="327.68" r="11" fill="#FF80FF"/>
<circle cx="1039.43" cy="320.54" r="11" fill="#FF80FF"/>
<circle cx="1085.71" cy="316.54" r="11" fill="#FF80FF"/>
<circle cx="1131.99" cy="313.97" r="11" fill="#FF80FF"/>
<circle cx="1178.27" cy="313.4" r="11" fill="#FF80FF"/>
<circle cx="1224.55" cy="315.55" r="11" fill="#FF80FF"/>
<circle cx="1270.84" cy="311.26" r="11" fill="#FF80FF"/>
<polyline points="900.58,471.35 946.86,472.35 993.15,470.5 1039.43,468.64 1085.71,456.22 1131.99,430.51 1178.27,341.97" fill="none" stroke="#008000" stroke-width="4"/>
<circle cx="900.58" cy="471.35" r="11" fill="#008000"/>
<circle cx="946.86" cy="472.35" r="11" fill="#008000"/>
<circle cx="993.15" cy="470.5" r="11" fill="#008000"/>
<circle cx="1039.43" cy="468.64" r="11" fill="#008000"/>
<circle cx="1085.71" cy="456.22" r="11" fill="#008000"/>
<circle cx="1131.99" cy="430.51" r="11" fill="#008000"/>
<circle cx="1178.27" cy="341.97" r="11" fill="#008000"/>
<rect x="854.3" y="26.35" width="509.1" height="571.25" fill="none" stroke="#000" stroke-width="2"/>
<line x1="844" y1="597.6" x2="854.3" y2="597.6" stroke="#000" stroke-width="2" />
<text x="791.45" y="610.25" font-size="40.7" fill="#000"><tspan>60</tspan></text>
<line x1="844" y1="454.79" x2="854.3" y2="454.79" stroke="#000" stroke-width="2" />
<text x="791.45" y="467.44" font-size="40.7" fill="#000"><tspan>70</tspan></text>
<line x1="844" y1="311.98" x2="854.3" y2="311.98" stroke="#000" stroke-width="2" />
<text x="791.45" y="324.62" font-size="40.7" fill="#000"><tspan>80</tspan></text>
<line x1="844" y1="169.16" x2="854.3" y2="169.16" stroke="#000" stroke-width="2" />
<text x="791.45" y="181.81" font-size="40.7" fill="#000"><tspan>90</tspan></text>
<line x1="844" y1="26.35" x2="854.3" y2="26.35" stroke="#000" stroke-width="2" />
<text x="768.86" y="39" font-size="40.7" fill="#000"><tspan>100</tspan></text>
<line x1="849.1" y1="526.19" x2="854.3" y2="526.19" stroke="#000" stroke-width="2" />
<line x1="849.1" y1="383.38" x2="854.3" y2="383.38" stroke="#000" stroke-width="2" />
<line x1="849.1" y1="240.57" x2="854.3" y2="240.57" stroke="#000" stroke-width="2" />
<line x1="849.1" y1="97.76" x2="854.3" y2="97.76" stroke="#000" stroke-width="2" />
<line x1="900.58" y1="597.6" x2="900.58" y2="607.6" stroke="#000" stroke-width="2" />
<text x="872.5" y="646.29" font-size="40.7" fill="#000"><tspan>0,2</tspan></text>
<line x1="993.15" y1="597.6" x2="993.15" y2="607.6" stroke="#000" stroke-width="2" />
<text x="964.96" y="646.29" font-size="40.7" fill="#000"><tspan>0,3</tspan></text>
<line x1="1085.71" y1="597.6" x2="1085.71" y2="607.6" stroke="#000" stroke-width="2" />
<text x="1057.22" y="646.29" font-size="40.7" fill="#000"><tspan>0,4</tspan></text>
<line x1="1178.27" y1="597.6" x2="1178.27" y2="607.6" stroke="#000" stroke-width="2" />
<text x="1149.99" y="646.29" font-size="40.7" fill="#000"><tspan>0,5</tspan></text>
<line x1="1270.84" y1="597.6" x2="1270.84" y2="607.6" stroke="#000" stroke-width="2" />
<text x="1242.65" y="646.29" font-size="40.7" fill="#000"><tspan>0,6</tspan></text>
<line x1="1363.4" y1="597.6" x2="1363.4" y2="607.6" stroke="#000" stroke-width="2" />
<text x="1335.32" y="646.29" font-size="40.7" fill="#000"><tspan>0,7</tspan></text>
<line x1="854.3" y1="597.6" x2="854.3" y2="602.6" stroke="#000" stroke-width="2" />
<line x1="946.86" y1="597.6" x2="946.86" y2="602.6" stroke="#000" stroke-width="2" />
<line x1="1039.43" y1="597.6" x2="1039.43" y2="602.6" stroke="#000" stroke-width="2" />
<line x1="1131.99" y1="597.6" x2="1131.99" y2="602.6" stroke="#000" stroke-width="2" />
<line x1="1224.55" y1="597.6" x2="1224.55" y2="602.6" stroke="#000" stroke-width="2" />
<line x1="1317.12" y1="597.6" x2="1317.12" y2="602.6" stroke="#000" stroke-width="2" />
<text x="1170.58" y="427.39" font-size="40.7" fill="#FF8000"><tspan>H-Au NAs</tspan></text>
<text x="1170.34" y="477.29" font-size="40.7" fill="#00A0FF"><tspan>M-Au NAs</tspan></text>
<text x="1170.34" y="526.24" font-size="40.7" fill="#FF80FF"><tspan>L-Au NAs</tspan></text>
<text x="1170.77" y="576.24" font-size="40.7" fill="#008000"><tspan>Au NPs</tspan></text>
<text x="745.84" y="487.75" font-size="40.63" fill="#000" transform="rotate(-90 745.84 487.75)"><tspan>H</tspan><tspan font-size="27.63" dy="10.97">2</tspan><tspan dy="-10.97">O</tspan><tspan font-size="27.63" dy="10.97">2</tspan><tspan dy="-10.97"> selectivity (%)</tspan></text>
<text x="974.78" y="699.94" font-size="40.73" fill="#000"><tspan font-style="italic">E</tspan><tspan> vs. RHE (V)</tspan></text>
<text x="4.35" y="737.31" font-size="54" fill="#000" font-weight="bold"><tspan>c</tspan></text>
<rect x="131" y="734" width="493.2" height="533.5" fill="none" stroke="#000" stroke-width="2"/>
<line x1="121" y1="1208.24" x2="131" y2="1208.24" stroke="#000" stroke-width="2" />
<text x="67.35" y="1220.85" font-size="42" fill="#000"><tspan>60</tspan></text>
<line x1="121" y1="1089.68" x2="131" y2="1089.68" stroke="#000" stroke-width="2" />
<text x="67.35" y="1102.29" font-size="42" fill="#000"><tspan>70</tspan></text>
<line x1="121" y1="971.12" x2="131" y2="971.12" stroke="#000" stroke-width="2" />
<text x="67.35" y="983.73" font-size="42" fill="#000"><tspan>80</tspan></text>
<line x1="121" y1="852.56" x2="131" y2="852.56" stroke="#000" stroke-width="2" />
<text x="67.35" y="865.17" font-size="42" fill="#000"><tspan>90</tspan></text>
<line x1="121" y1="734" x2="131" y2="734" stroke="#000" stroke-width="2" />
<text x="44.04" y="746.61" font-size="42" fill="#000"><tspan>100</tspan></text>
<line x1="126" y1="1267.52" x2="131" y2="1267.52" stroke="#000" stroke-width="2" />
<line x1="126" y1="1148.96" x2="131" y2="1148.96" stroke="#000" stroke-width="2" />
<line x1="126" y1="1030.4" x2="131" y2="1030.4" stroke="#000" stroke-width="2" />
<line x1="126" y1="911.84" x2="131" y2="911.84" stroke="#000" stroke-width="2" />
<line x1="126" y1="793.28" x2="131" y2="793.28" stroke="#000" stroke-width="2" />
<line x1="158.6" y1="1267.5" x2="158.6" y2="1277" stroke="#000" stroke-width="2" />
<text x="129.62" y="1316.2" font-size="42" fill="#000"><tspan>0,2</tspan></text>
<line x1="251.72" y1="1267.5" x2="251.72" y2="1277" stroke="#000" stroke-width="2" />
<text x="222.64" y="1316.2" font-size="42" fill="#000"><tspan>0,3</tspan></text>
<line x1="344.84" y1="1267.5" x2="344.84" y2="1277" stroke="#000" stroke-width="2" />
<text x="315.44" y="1316.2" font-size="42" fill="#000"><tspan>0,4</tspan></text>
<line x1="437.96" y1="1267.5" x2="437.96" y2="1277" stroke="#000" stroke-width="2" />
<text x="408.77" y="1316.2" font-size="42" fill="#000"><tspan>0,5</tspan></text>
<line x1="531.08" y1="1267.5" x2="531.08" y2="1277" stroke="#000" stroke-width="2" />
<text x="502" y="1316.2" font-size="42" fill="#000"><tspan>0,6</tspan></text>
<line x1="624.2" y1="1267.5" x2="624.2" y2="1277" stroke="#000" stroke-width="2" />
<text x="595.22" y="1316.2" font-size="42" fill="#000"><tspan>0,7</tspan></text>
<line x1="205.16" y1="1267.5" x2="205.16" y2="1272.5" stroke="#000" stroke-width="2" />
<line x1="298.28" y1="1267.5" x2="298.28" y2="1272.5" stroke="#000" stroke-width="2" />
<line x1="391.4" y1="1267.5" x2="391.4" y2="1272.5" stroke="#000" stroke-width="2" />
<line x1="484.52" y1="1267.5" x2="484.52" y2="1272.5" stroke="#000" stroke-width="2" />
<line x1="577.64" y1="1267.5" x2="577.64" y2="1272.5" stroke="#000" stroke-width="2" />
<circle cx="158.6" cy="781.42" r="10" fill="#000"/>
<circle cx="335.53" cy="852.56" r="10" fill="#000"/>
<circle cx="344.84" cy="769.57" r="10" fill="#000"/>
<circle cx="428.65" cy="828.85" r="10" fill="#000"/>
<circle cx="447.27" cy="805.14" r="10" fill="#000"/>
<circle cx="484.52" cy="888.13" r="10" fill="#000"/>
<circle cx="475.21" cy="935.55" r="10" fill="#000"/>
<circle cx="531.08" cy="876.27" r="10" fill="#000"/>
<circle cx="540.39" cy="816.99" r="10" fill="#000"/>
<circle cx="549.7" cy="911.84" r="10" fill="#000"/>
<circle cx="559.02" cy="1243.81" r="10" fill="#000"/>
<circle cx="586.95" cy="769.57" r="10" fill="#000"/>
<polygon points="586.9,738.8 591.37,751.65 604.97,751.93 594.13,760.15 598.07,773.17 586.9,765.4 575.73,773.17 579.67,760.15 568.83,751.93 582.43,751.65" fill="#FF8000"/>
<polygon points="548.1,828.9 562.3,847 548.1,865 533.9,847" fill="#00A0FF"/>
<g fill="#FF80FF"><circle cx="507.5" cy="951.6" r="7.2"/><circle cx="498.5" cy="964.6" r="7.2"/><circle cx="516.5" cy="964.6" r="7.2"/><path d="M505.2,962 L509.8,962 C509.8,968 510.5,972.5 513,976 L502,976 C504.5,972.5 505.2,968 505.2,962Z"/></g>
<path fill="#008000" d="M443.6,1075.9 C449,1084 458.3,1091 458.3,1098.5 C458.3,1103 455.5,1105.5 452.5,1105.5 C449.5,1105.5 447.5,1103.5 446.3,1100.5 C446.3,1104 447,1106.5 449.5,1109 L437.7,1109 C440.2,1106.5 440.9,1104 440.9,1100.5 C439.7,1103.5 437.7,1105.5 434.7,1105.5 C431.7,1105.5 428.9,1103 428.9,1098.5 C428.9,1091 438.2,1084 443.6,1075.9Z"/>
<text x="495.41" y="745.93" font-size="42.18" fill="#00A0FF" transform="rotate(90 495.41 745.93)"><tspan>M-Au NAs</tspan></text>
<text x="572.7" y="786.16" font-size="41.78" fill="#FF8000" transform="rotate(90 572.7 786.16)"><tspan>H-Au NAs</tspan></text>
<text x="423.81" y="1022.32" font-size="42.4" fill="#FF80FF"><tspan>L-Au NAs</tspan></text>
<text x="377.69" y="1157.55" font-size="42.06" fill="#008000"><tspan>Au NPs</tspan></text>
<text x="32.6" y="1182.96" font-size="41.99" fill="#000" transform="rotate(-90 32.6 1182.96)"><tspan>H</tspan><tspan font-size="28.55" dy="11.34">2</tspan><tspan dy="-11.34">O</tspan><tspan font-size="28.55" dy="11.34">2</tspan><tspan dy="-11.34"> selectivity (%)</tspan></text>
<text x="213.74" y="1371.18" font-size="41.9" fill="#000"><tspan font-style="italic">E</tspan><tspan font-size="28.49" dy="11.31">onset</tspan><tspan dy="-11.31"> (V vs. RHE)</tspan></text>
<text x="720.71" y="735" font-size="54" fill="#000" font-weight="bold"><tspan>d</tspan></text>
<line x1="850.3" y1="732.3" x2="1099.8" y2="732.3" stroke="#000" stroke-width="2.2" />
<line x1="856.3" y1="732.3" x2="856.3" y2="986.5" stroke="#000" stroke-width="2.2" />
<line x1="856.3" y1="986.5" x2="1099.8" y2="986.5" stroke="#000" stroke-width="2.2" />
<line x1="844.3" y1="954.1" x2="856.3" y2="954.1" stroke="#000" stroke-width="2.2" />
<text x="765.12" y="965.58" font-size="36" fill="#000"><tspan>0,50</tspan></text>
<line x1="844.3" y1="890.6" x2="856.3" y2="890.6" stroke="#000" stroke-width="2.2" />
<text x="765.12" y="902.08" font-size="36" fill="#000"><tspan>0,55</tspan></text>
<line x1="844.3" y1="827.1" x2="856.3" y2="827.1" stroke="#000" stroke-width="2.2" />
<text x="765.12" y="838.58" font-size="36" fill="#000"><tspan>0,60</tspan></text>
<line x1="844.3" y1="763.6" x2="856.3" y2="763.6" stroke="#000" stroke-width="2.2" />
<text x="765.12" y="775.08" font-size="36" fill="#000"><tspan>0,65</tspan></text>
<line x1="850.3" y1="922.35" x2="856.3" y2="922.35" stroke="#000" stroke-width="2.2" />
<line x1="850.3" y1="858.85" x2="856.3" y2="858.85" stroke="#000" stroke-width="2.2" />
<line x1="850.3" y1="795.35" x2="856.3" y2="795.35" stroke="#000" stroke-width="2.2" />
<line x1="850.3" y1="731.85" x2="856.3" y2="731.85" stroke="#000" stroke-width="2.2" />
<line x1="850.3" y1="985.85" x2="856.3" y2="985.85" stroke="#000" stroke-width="2.2" />
<line x1="874.2" y1="986.5" x2="874.2" y2="974.5" stroke="#000" stroke-width="2.2" />
<line x1="963.95" y1="986.5" x2="963.95" y2="974.5" stroke="#000" stroke-width="2.2" />
<line x1="1053.7" y1="986.5" x2="1053.7" y2="974.5" stroke="#000" stroke-width="2.2" />
<line x1="919.08" y1="986.5" x2="919.08" y2="980.5" stroke="#000" stroke-width="2.2" />
<line x1="1008.83" y1="986.5" x2="1008.83" y2="980.5" stroke="#000" stroke-width="2.2" />
<line x1="1098.58" y1="986.5" x2="1098.58" y2="980.5" stroke="#000" stroke-width="2.2" />
<line x1="1115.9" y1="732.3" x2="1370.3" y2="732.3" stroke="#000" stroke-width="2.2" />
<line x1="1115.9" y1="732.3" x2="1115.9" y2="986.5" stroke="#000" stroke-width="2.2" />
<line x1="1114.9" y1="986.5" x2="1358.3" y2="986.5" stroke="#000" stroke-width="2.2" />
<line x1="1358.3" y1="732.3" x2="1358.3" y2="986.5" stroke="#000" stroke-width="2.2" />
<line x1="1358.3" y1="949.71" x2="1370.3" y2="949.71" stroke="#000" stroke-width="2.2" />
<text x="1380.02" y="961.11" font-size="35.5" fill="#000"><tspan>70</tspan></text>
<line x1="1358.3" y1="877.24" x2="1370.3" y2="877.24" stroke="#000" stroke-width="2.2" />
<text x="1380.2" y="888.64" font-size="35.5" fill="#000"><tspan>80</tspan></text>
<line x1="1358.3" y1="804.77" x2="1370.3" y2="804.77" stroke="#000" stroke-width="2.2" />
<text x="1380.2" y="816.17" font-size="35.5" fill="#000"><tspan>90</tspan></text>
<line x1="1358.3" y1="732.3" x2="1370.3" y2="732.3" stroke="#000" stroke-width="2.2" />
<text x="1380.64" y="743.7" font-size="35.5" fill="#000"><tspan>100</tspan></text>
<line x1="1358.3" y1="985.94" x2="1364.3" y2="985.94" stroke="#000" stroke-width="2.2" />
<line x1="1358.3" y1="913.47" x2="1364.3" y2="913.47" stroke="#000" stroke-width="2.2" />
<line x1="1358.3" y1="841" x2="1364.3" y2="841" stroke="#000" stroke-width="2.2" />
<line x1="1358.3" y1="768.53" x2="1364.3" y2="768.53" stroke="#000" stroke-width="2.2" />
<line x1="1133.3" y1="986.5" x2="1133.3" y2="974.5" stroke="#000" stroke-width="2.2" />
<line x1="1223.1" y1="986.5" x2="1223.1" y2="974.5" stroke="#000" stroke-width="2.2" />
<line x1="1312.9" y1="986.5" x2="1312.9" y2="974.5" stroke="#000" stroke-width="2.2" />
<line x1="1178.2" y1="986.5" x2="1178.2" y2="980.5" stroke="#000" stroke-width="2.2" />
<line x1="1268" y1="986.5" x2="1268" y2="980.5" stroke="#000" stroke-width="2.2" />
<line x1="1357.8" y1="986.5" x2="1357.8" y2="980.5" stroke="#000" stroke-width="2.2" />
<line x1="844.3" y1="1003.9" x2="856.3" y2="1003.9" stroke="#000" stroke-width="2.2" />
<line x1="856.3" y1="1003.9" x2="856.3" y2="1265.4" stroke="#000" stroke-width="2.2" />
<line x1="844.3" y1="1265.4" x2="1099.8" y2="1265.4" stroke="#000" stroke-width="2.2" />
<line x1="844.3" y1="1004.79" x2="856.3" y2="1004.79" stroke="#000" stroke-width="2.2" />
<text x="811.53" y="1016.42" font-size="35" fill="#000"><tspan>1</tspan></text>
<line x1="844.3" y1="1091.66" x2="856.3" y2="1091.66" stroke="#000" stroke-width="2.2" />
<text x="782.3" y="1103.29" font-size="35" fill="#000"><tspan>0,1</tspan></text>
<line x1="844.3" y1="1178.53" x2="856.3" y2="1178.53" stroke="#000" stroke-width="2.2" />
<text x="762.88" y="1190.16" font-size="35" fill="#000"><tspan>0,01</tspan></text>
<line x1="844.3" y1="1265.4" x2="856.3" y2="1265.4" stroke="#000" stroke-width="2.2" />
<text x="743.28" y="1277.03" font-size="35" fill="#000"><tspan>0,001</tspan></text>
<line x1="850.3" y1="1239.25" x2="856.3" y2="1239.25" stroke="#000" stroke-width="2.2" />
<line x1="850.3" y1="1223.95" x2="856.3" y2="1223.95" stroke="#000" stroke-width="2.2" />
<line x1="850.3" y1="1213.1" x2="856.3" y2="1213.1" stroke="#000" stroke-width="2.2" />
<line x1="850.3" y1="1204.68" x2="856.3" y2="1204.68" stroke="#000" stroke-width="2.2" />
<line x1="850.3" y1="1197.8" x2="856.3" y2="1197.8" stroke="#000" stroke-width="2.2" />
<line x1="850.3" y1="1191.99" x2="856.3" y2="1191.99" stroke="#000" stroke-width="2.2" />
<line x1="850.3" y1="1186.95" x2="856.3" y2="1186.95" stroke="#000" stroke-width="2.2" />
<line x1="850.3" y1="1182.5" x2="856.3" y2="1182.5" stroke="#000" stroke-width="2.2" />
<line x1="850.3" y1="1152.38" x2="856.3" y2="1152.38" stroke="#000" stroke-width="2.2" />
<line x1="850.3" y1="1137.08" x2="856.3" y2="1137.08" stroke="#000" stroke-width="2.2" />
<line x1="850.3" y1="1126.23" x2="856.3" y2="1126.23" stroke="#000" stroke-width="2.2" />
<line x1="850.3" y1="1117.81" x2="856.3" y2="1117.81" stroke="#000" stroke-width="2.2" />
<line x1="850.3" y1="1110.93" x2="856.3" y2="1110.93" stroke="#000" stroke-width="2.2" />
<line x1="850.3" y1="1105.12" x2="856.3" y2="1105.12" stroke="#000" stroke-width="2.2" />
<line x1="850.3" y1="1100.08" x2="856.3" y2="1100.08" stroke="#000" stroke-width="2.2" />
<line x1="850.3" y1="1095.63" x2="856.3" y2="1095.63" stroke="#000" stroke-width="2.2" />
<line x1="850.3" y1="1065.51" x2="856.3" y2="1065.51" stroke="#000" stroke-width="2.2" />
<line x1="850.3" y1="1050.21" x2="856.3" y2="1050.21" stroke="#000" stroke-width="2.2" />
<line x1="850.3" y1="1039.36" x2="856.3" y2="1039.36" stroke="#000" stroke-width="2.2" />
<line x1="850.3" y1="1030.94" x2="856.3" y2="1030.94" stroke="#000" stroke-width="2.2" />
<line x1="850.3" y1="1024.06" x2="856.3" y2="1024.06" stroke="#000" stroke-width="2.2" />
<line x1="850.3" y1="1018.25" x2="856.3" y2="1018.25" stroke="#000" stroke-width="2.2" />
<line x1="850.3" y1="1013.21" x2="856.3" y2="1013.21" stroke="#000" stroke-width="2.2" />
<line x1="850.3" y1="1008.76" x2="856.3" y2="1008.76" stroke="#000" stroke-width="2.2" />
<line x1="874.2" y1="1265.4" x2="874.2" y2="1277.4" stroke="#000" stroke-width="2.2" />
<line x1="963.95" y1="1265.4" x2="963.95" y2="1277.4" stroke="#000" stroke-width="2.2" />
<line x1="1053.7" y1="1265.4" x2="1053.7" y2="1277.4" stroke="#000" stroke-width="2.2" />
<line x1="919.08" y1="1265.4" x2="919.08" y2="1271.4" stroke="#000" stroke-width="2.2" />
<line x1="1008.83" y1="1265.4" x2="1008.83" y2="1271.4" stroke="#000" stroke-width="2.2" />
<line x1="1098.58" y1="1265.4" x2="1098.58" y2="1271.4" stroke="#000" stroke-width="2.2" />
<line x1="1099.8" y1="1265.4" x2="1099.8" y2="1271.4" stroke="#000" stroke-width="2.2" />
<line x1="1115.9" y1="1003.9" x2="1115.9" y2="1265.4" stroke="#000" stroke-width="2.2" />
<line x1="1114.9" y1="1265.4" x2="1370.3" y2="1265.4" stroke="#000" stroke-width="2.2" />
<line x1="1358.3" y1="1003.9" x2="1358.3" y2="1265.4" stroke="#000" stroke-width="2.2" />
<line x1="1358.3" y1="1264.6" x2="1370.3" y2="1264.6" stroke="#000" stroke-width="2.2" />
<text x="1380.38" y="1276.4" font-size="35.5" fill="#000"><tspan>0,1</tspan></text>
<line x1="1358.3" y1="1179.8" x2="1370.3" y2="1179.8" stroke="#000" stroke-width="2.2" />
<text x="1380.64" y="1191.6" font-size="35.5" fill="#000"><tspan>1</tspan></text>
<line x1="1358.3" y1="1095" x2="1370.3" y2="1095" stroke="#000" stroke-width="2.2" />
<text x="1380.64" y="1106.8" font-size="35.5" fill="#000"><tspan>10</tspan></text>
<line x1="1358.3" y1="1010.2" x2="1370.3" y2="1010.2" stroke="#000" stroke-width="2.2" />
<text x="1380.64" y="1022" font-size="35.5" fill="#000"><tspan>100</tspan></text>
<line x1="1358.3" y1="1239.07" x2="1364.3" y2="1239.07" stroke="#000" stroke-width="2.2" />
<line x1="1358.3" y1="1224.14" x2="1364.3" y2="1224.14" stroke="#000" stroke-width="2.2" />
<line x1="1358.3" y1="1213.55" x2="1364.3" y2="1213.55" stroke="#000" stroke-width="2.2" />
<line x1="1358.3" y1="1205.33" x2="1364.3" y2="1205.33" stroke="#000" stroke-width="2.2" />
<line x1="1358.3" y1="1198.61" x2="1364.3" y2="1198.61" stroke="#000" stroke-width="2.2" />
<line x1="1358.3" y1="1192.94" x2="1364.3" y2="1192.94" stroke="#000" stroke-width="2.2" />
<line x1="1358.3" y1="1188.02" x2="1364.3" y2="1188.02" stroke="#000" stroke-width="2.2" />
<line x1="1358.3" y1="1183.68" x2="1364.3" y2="1183.68" stroke="#000" stroke-width="2.2" />
<line x1="1358.3" y1="1154.27" x2="1364.3" y2="1154.27" stroke="#000" stroke-width="2.2" />
<line x1="1358.3" y1="1139.34" x2="1364.3" y2="1139.34" stroke="#000" stroke-width="2.2" />
<line x1="1358.3" y1="1128.75" x2="1364.3" y2="1128.75" stroke="#000" stroke-width="2.2" />
<line x1="1358.3" y1="1120.53" x2="1364.3" y2="1120.53" stroke="#000" stroke-width="2.2" />
<line x1="1358.3" y1="1113.81" x2="1364.3" y2="1113.81" stroke="#000" stroke-width="2.2" />
<line x1="1358.3" y1="1108.14" x2="1364.3" y2="1108.14" stroke="#000" stroke-width="2.2" />
<line x1="1358.3" y1="1103.22" x2="1364.3" y2="1103.22" stroke="#000" stroke-width="2.2" />
<line x1="1358.3" y1="1098.88" x2="1364.3" y2="1098.88" stroke="#000" stroke-width="2.2" />
<line x1="1358.3" y1="1069.47" x2="1364.3" y2="1069.47" stroke="#000" stroke-width="2.2" />
<line x1="1358.3" y1="1054.54" x2="1364.3" y2="1054.54" stroke="#000" stroke-width="2.2" />
<line x1="1358.3" y1="1043.95" x2="1364.3" y2="1043.95" stroke="#000" stroke-width="2.2" />
<line x1="1358.3" y1="1035.73" x2="1364.3" y2="1035.73" stroke="#000" stroke-width="2.2" />
<line x1="1358.3" y1="1029.01" x2="1364.3" y2="1029.01" stroke="#000" stroke-width="2.2" />
<line x1="1358.3" y1="1023.34" x2="1364.3" y2="1023.34" stroke="#000" stroke-width="2.2" />
<line x1="1358.3" y1="1018.42" x2="1364.3" y2="1018.42" stroke="#000" stroke-width="2.2" />
<line x1="1358.3" y1="1014.08" x2="1364.3" y2="1014.08" stroke="#000" stroke-width="2.2" />
<line x1="1133.3" y1="1265.4" x2="1133.3" y2="1277.4" stroke="#000" stroke-width="2.2" />
<line x1="1223.1" y1="1265.4" x2="1223.1" y2="1277.4" stroke="#000" stroke-width="2.2" />
<line x1="1312.9" y1="1265.4" x2="1312.9" y2="1277.4" stroke="#000" stroke-width="2.2" />
<line x1="1178.2" y1="1265.4" x2="1178.2" y2="1271.4" stroke="#000" stroke-width="2.2" />
<line x1="1268" y1="1265.4" x2="1268" y2="1271.4" stroke="#000" stroke-width="2.2" />
<line x1="874.2" y1="942.3" x2="874.2" y2="967.6" stroke="#008000" stroke-width="3" />
<line x1="867.7" y1="942.3" x2="880.7" y2="942.3" stroke="#008000" stroke-width="3" />
<line x1="867.7" y1="967.6" x2="880.7" y2="967.6" stroke="#008000" stroke-width="3" />
<circle cx="874.2" cy="954.5" r="10.6" fill="#008000"/>
<line x1="962" y1="853" x2="962" y2="878.4" stroke="#FF80FF" stroke-width="3" />
<line x1="955.5" y1="853" x2="968.5" y2="853" stroke="#FF80FF" stroke-width="3" />
<line x1="955.5" y1="878.4" x2="968.5" y2="878.4" stroke="#FF80FF" stroke-width="3" />
<line x1="949.9" y1="865.3" x2="974.3" y2="865.3" stroke="#FF80FF" stroke-width="3" />
<line x1="949.9" y1="858.8" x2="949.9" y2="871.8" stroke="#FF80FF" stroke-width="3" />
<line x1="974.3" y1="858.8" x2="974.3" y2="871.8" stroke="#FF80FF" stroke-width="3" />
<circle cx="962" cy="865.3" r="10.6" fill="#FF80FF"/>
<line x1="1018" y1="789.8" x2="1018" y2="839.9" stroke="#00A0FF" stroke-width="3" />
<line x1="1011.5" y1="789.8" x2="1024.5" y2="789.8" stroke="#00A0FF" stroke-width="3" />
<line x1="1011.5" y1="839.9" x2="1024.5" y2="839.9" stroke="#00A0FF" stroke-width="3" />
<circle cx="1018" cy="815" r="10.6" fill="#00A0FF"/>
<line x1="1084.5" y1="738.5" x2="1084.5" y2="764.2" stroke="#FF8000" stroke-width="3" />
<line x1="1078" y1="738.5" x2="1091" y2="738.5" stroke="#FF8000" stroke-width="3" />
<line x1="1078" y1="764.2" x2="1091" y2="764.2" stroke="#FF8000" stroke-width="3" />
<circle cx="1084.5" cy="751" r="10.6" fill="#FF8000"/>
<line x1="1133.3" y1="936.4" x2="1133.3" y2="973.2" stroke="#008000" stroke-width="3" />
<line x1="1126.8" y1="936.4" x2="1139.8" y2="936.4" stroke="#008000" stroke-width="3" />
<line x1="1126.8" y1="973.2" x2="1139.8" y2="973.2" stroke="#008000" stroke-width="3" />
<circle cx="1133.3" cy="954.5" r="10.6" fill="#008000"/>
<line x1="1221.4" y1="855" x2="1221.4" y2="899.2" stroke="#FF80FF" stroke-width="3" />
<line x1="1214.9" y1="855" x2="1227.9" y2="855" stroke="#FF80FF" stroke-width="3" />
<line x1="1214.9" y1="899.2" x2="1227.9" y2="899.2" stroke="#FF80FF" stroke-width="3" />
<line x1="1209.7" y1="877" x2="1233.5" y2="877" stroke="#FF80FF" stroke-width="3" />
<line x1="1209.7" y1="870.5" x2="1209.7" y2="883.5" stroke="#FF80FF" stroke-width="3" />
<line x1="1233.5" y1="870.5" x2="1233.5" y2="883.5" stroke="#FF80FF" stroke-width="3" />
<circle cx="1221.4" cy="877" r="10.6" fill="#FF80FF"/>
<line x1="1277.7" y1="786.5" x2="1277.7" y2="824.7" stroke="#00A0FF" stroke-width="3" />
<line x1="1271.2" y1="786.5" x2="1284.2" y2="786.5" stroke="#00A0FF" stroke-width="3" />
<line x1="1271.2" y1="824.7" x2="1284.2" y2="824.7" stroke="#00A0FF" stroke-width="3" />
<circle cx="1277.7" cy="805" r="10.6" fill="#00A0FF"/>
<clipPath id="cd2"><rect x="1100" y="732.3" width="300" height="300"/></clipPath>
<circle cx="1344.4" cy="739.1" r="10.5" fill="#FF8000" clip-path="url(#cd2)"/>
<circle cx="874.2" cy="1253.2" r="10.6" fill="#008000"/>
<line x1="962" y1="1107.7" x2="962" y2="1131.2" stroke="#FF80FF" stroke-width="3" />
<line x1="955.5" y1="1107.7" x2="968.5" y2="1107.7" stroke="#FF80FF" stroke-width="3" />
<line x1="955.5" y1="1131.2" x2="968.5" y2="1131.2" stroke="#FF80FF" stroke-width="3" />
<line x1="949.9" y1="1118" x2="974.3" y2="1118" stroke="#FF80FF" stroke-width="3" />
<line x1="949.9" y1="1111.5" x2="949.9" y2="1124.5" stroke="#FF80FF" stroke-width="3" />
<line x1="974.3" y1="1111.5" x2="974.3" y2="1124.5" stroke="#FF80FF" stroke-width="3" />
<circle cx="962" cy="1118" r="10.6" fill="#FF80FF"/>
<line x1="1018" y1="1056.6" x2="1018" y2="1086.7" stroke="#00A0FF" stroke-width="3" />
<line x1="1011.5" y1="1056.6" x2="1024.5" y2="1056.6" stroke="#00A0FF" stroke-width="3" />
<line x1="1011.5" y1="1086.7" x2="1024.5" y2="1086.7" stroke="#00A0FF" stroke-width="3" />
<circle cx="1018" cy="1068.6" r="10.6" fill="#00A0FF"/>
<line x1="1084.5" y1="1005.4" x2="1084.5" y2="1021.3" stroke="#FF8000" stroke-width="3" />
<line x1="1078" y1="1005.4" x2="1091" y2="1005.4" stroke="#FF8000" stroke-width="3" />
<line x1="1078" y1="1021.3" x2="1091" y2="1021.3" stroke="#FF8000" stroke-width="3" />
<circle cx="1084.5" cy="1012.3" r="10.6" fill="#FF8000"/>
<circle cx="1133.3" cy="1230.1" r="10.6" fill="#008000"/>
<line x1="1221.4" y1="1110" x2="1221.4" y2="1116" stroke="#FF80FF" stroke-width="3" />
<line x1="1214.9" y1="1110" x2="1227.9" y2="1110" stroke="#FF80FF" stroke-width="3" />
<line x1="1214.9" y1="1116" x2="1227.9" y2="1116" stroke="#FF80FF" stroke-width="3" />
<line x1="1209.7" y1="1113.2" x2="1233.5" y2="1113.2" stroke="#FF80FF" stroke-width="3" />
<line x1="1209.7" y1="1106.7" x2="1209.7" y2="1119.7" stroke="#FF80FF" stroke-width="3" />
<line x1="1233.5" y1="1106.7" x2="1233.5" y2="1119.7" stroke="#FF80FF" stroke-width="3" />
<circle cx="1221.4" cy="1113.2" r="10.6" fill="#FF80FF"/>
<line x1="1277.7" y1="1068" x2="1277.7" y2="1078" stroke="#00A0FF" stroke-width="3" />
<line x1="1271.2" y1="1068" x2="1284.2" y2="1068" stroke="#00A0FF" stroke-width="3" />
<line x1="1271.2" y1="1078" x2="1284.2" y2="1078" stroke="#00A0FF" stroke-width="3" />
<circle cx="1277.7" cy="1069.5" r="10.6" fill="#00A0FF"/>
<circle cx="1344.5" cy="1020.2" r="10.6" fill="#FF8000"/>
<text x="864.05" y="1314.05" font-size="35.5" fill="#000"><tspan>0</tspan></text>
<text x="934.64" y="1314.05" font-size="35.5" fill="#000"><tspan>100</tspan></text>
<text x="1023.88" y="1314.05" font-size="35.5" fill="#000"><tspan>200</tspan></text>
<text x="1123.45" y="1314.05" font-size="35.5" fill="#000"><tspan>0</tspan></text>
<text x="1192.74" y="1314.05" font-size="35.5" fill="#000"><tspan>100</tspan></text>
<text x="1283.08" y="1314.05" font-size="35.5" fill="#000"><tspan>200</tspan></text>
<text x="978.03" y="1361.46" font-size="39.42" fill="#000"><tspan>GB density (μm</tspan><tspan font-size="26.02" dy="-15.77">-1</tspan><tspan dy="15.77">)</tspan></text>
<text x="683.6" y="907.37" font-size="39.04" fill="#000" transform="rotate(-90 683.6 907.37)"><tspan font-style="italic">E</tspan><tspan font-size="26.55" dy="10.54">onset</tspan></text>
<text x="742.89" y="961.46" font-size="39.36" fill="#000" transform="rotate(-90 742.89 961.46)"><tspan>(V vs. RHE)</tspan></text>
<text x="728.56" y="1269.47" font-size="39.44" fill="#000" transform="rotate(-90 728.56 1269.47)"><tspan>Specific activity</tspan></text>
<text x="1482.1" y="981.77" font-size="39.23" fill="#000" transform="rotate(-90 1482.1 981.77)"><tspan>Selectivity (%)</tspan></text>
<text x="1478.25" y="1248.25" font-size="39.43" fill="#000" transform="rotate(-90 1478.25 1248.25)"><tspan>Mass activity</tspan></text>
<text x="2.98" y="1422.21" font-size="54" fill="#000" font-weight="bold"><tspan>e</tspan></text>
<line x1="120.4" y1="1823.5" x2="128.9" y2="1823.5" stroke="#000" stroke-width="1.6" />
<text x="62.28" y="1835.4" font-size="38.3" fill="#000"><tspan>0,1</tspan></text>
<line x1="120.4" y1="1758.83" x2="128.9" y2="1758.83" stroke="#000" stroke-width="1.6" />
<text x="62.28" y="1770.73" font-size="38.3" fill="#000"><tspan>0,2</tspan></text>
<line x1="120.4" y1="1694.16" x2="128.9" y2="1694.16" stroke="#000" stroke-width="1.6" />
<text x="62.09" y="1706.06" font-size="38.3" fill="#000"><tspan>0,3</tspan></text>
<line x1="120.4" y1="1629.49" x2="128.9" y2="1629.49" stroke="#000" stroke-width="1.6" />
<text x="61.51" y="1641.39" font-size="38.3" fill="#000"><tspan>0,4</tspan></text>
<line x1="120.4" y1="1564.82" x2="128.9" y2="1564.82" stroke="#000" stroke-width="1.6" />
<text x="61.9" y="1576.72" font-size="38.3" fill="#000"><tspan>0,5</tspan></text>
<line x1="120.4" y1="1500.15" x2="128.9" y2="1500.15" stroke="#000" stroke-width="1.6" />
<text x="62.09" y="1512.05" font-size="38.3" fill="#000"><tspan>0,6</tspan></text>
<line x1="120.4" y1="1435.48" x2="128.9" y2="1435.48" stroke="#000" stroke-width="1.6" />
<text x="62.28" y="1447.38" font-size="38.3" fill="#000"><tspan>0,7</tspan></text>
<line x1="124.7" y1="1791.16" x2="128.9" y2="1791.16" stroke="#000" stroke-width="1.6" />
<line x1="124.7" y1="1726.49" x2="128.9" y2="1726.49" stroke="#000" stroke-width="1.6" />
<line x1="124.7" y1="1661.83" x2="128.9" y2="1661.83" stroke="#000" stroke-width="1.6" />
<line x1="124.7" y1="1597.15" x2="128.9" y2="1597.15" stroke="#000" stroke-width="1.6" />
<line x1="124.7" y1="1532.48" x2="128.9" y2="1532.48" stroke="#000" stroke-width="1.6" />
<line x1="124.7" y1="1467.82" x2="128.9" y2="1467.82" stroke="#000" stroke-width="1.6" />
<line x1="164" y1="1823.5" x2="164" y2="1831.5" stroke="#000" stroke-width="1.6" />
<text x="137.48" y="1867.01" font-size="38.3" fill="#000"><tspan>3,6</tspan></text>
<line x1="235.06" y1="1823.5" x2="235.06" y2="1831.5" stroke="#000" stroke-width="1.6" />
<text x="208.54" y="1867.01" font-size="38.3" fill="#000"><tspan>3,8</tspan></text>
<line x1="306.12" y1="1823.5" x2="306.12" y2="1831.5" stroke="#000" stroke-width="1.6" />
<text x="279.79" y="1867.01" font-size="38.3" fill="#000"><tspan>4,0</tspan></text>
<line x1="377.18" y1="1823.5" x2="377.18" y2="1831.5" stroke="#000" stroke-width="1.6" />
<text x="351.04" y="1867.01" font-size="38.3" fill="#000"><tspan>4,2</tspan></text>
<line x1="448.24" y1="1823.5" x2="448.24" y2="1831.5" stroke="#000" stroke-width="1.6" />
<text x="421.72" y="1867.01" font-size="38.3" fill="#000"><tspan>4,4</tspan></text>
<line x1="519.3" y1="1823.5" x2="519.3" y2="1831.5" stroke="#000" stroke-width="1.6" />
<text x="493.06" y="1867.01" font-size="38.3" fill="#000"><tspan>4,6</tspan></text>
<line x1="590.36" y1="1823.5" x2="590.36" y2="1831.5" stroke="#000" stroke-width="1.6" />
<text x="564.12" y="1867.01" font-size="38.3" fill="#000"><tspan>4,8</tspan></text>
<line x1="128.47" y1="1823.5" x2="128.47" y2="1827.5" stroke="#000" stroke-width="1.6" />
<line x1="199.53" y1="1823.5" x2="199.53" y2="1827.5" stroke="#000" stroke-width="1.6" />
<line x1="270.59" y1="1823.5" x2="270.59" y2="1827.5" stroke="#000" stroke-width="1.6" />
<line x1="341.65" y1="1823.5" x2="341.65" y2="1827.5" stroke="#000" stroke-width="1.6" />
<line x1="412.71" y1="1823.5" x2="412.71" y2="1827.5" stroke="#000" stroke-width="1.6" />
<line x1="483.77" y1="1823.5" x2="483.77" y2="1827.5" stroke="#000" stroke-width="1.6" />
<line x1="554.83" y1="1823.5" x2="554.83" y2="1827.5" stroke="#000" stroke-width="1.6" />
<line x1="625.89" y1="1823.5" x2="625.89" y2="1827.5" stroke="#000" stroke-width="1.6" />
<line x1="128.9" y1="1435.48" x2="625.9" y2="1435.48" stroke="#000" stroke-width="1.7" stroke-dasharray="7.7 3.3 3 3.3 3 3.5" stroke-dashoffset="0.3"/>
<polyline points="171.4,1823.5 383.8,1435.5 597.2,1823.5" fill="none" stroke="#444" stroke-width="1.8"/>
<rect x="128.9" y="1409.9" width="497" height="413.6" fill="none" stroke="#000" stroke-width="1.6"/>
<circle cx="181.8" cy="1758.6" r="8.3" fill="#FF8000"/>
<circle cx="231.4" cy="1747.6" r="8.3" fill="#FF8000"/>
<circle cx="262.6" cy="1641.6" r="8.3" fill="#FF8000"/>
<circle cx="284.3" cy="1613.4" r="8.3" fill="#FF8000"/>
<circle cx="400.4" cy="1477.3" r="8.3" fill="#FF8000"/>
<circle cx="407.9" cy="1493.8" r="8.3" fill="#FF8000"/>
<circle cx="419.9" cy="1506.4" r="8.3" fill="#FF8000"/>
<circle cx="439.4" cy="1539.3" r="8.3" fill="#FF8000"/>
<circle cx="451.8" cy="1584" r="8.3" fill="#FF8000"/>
<circle cx="469.5" cy="1611.8" r="8.3" fill="#FF8000"/>
<circle cx="487.1" cy="1657.2" r="8.3" fill="#FF8000"/>
<path fill="#404040" d="M381.9,1557.7 L399.5,1531.1 L394,1531.4 L410.8,1519.2 L405.5,1538.7 L403.1,1533.5 L385.6,1560.1 Z"/>
<text x="410.23" y="1473.52" font-size="35.8" fill="#000"><tspan>PdHg</tspan></text>
<text x="431.17" y="1506.65" font-size="35.8" fill="#000"><tspan>PdAu</tspan></text>
<text x="453.05" y="1552.69" font-size="35.8" fill="#000"><tspan>PtHg</tspan></text>
<text x="472.95" y="1595.4" font-size="35.8" fill="#000"><tspan>3%-Au</tspan></text>
<text x="494.97" y="1630.64" font-size="35.8" fill="#000"><tspan>Hg</tspan></text>
<text x="523.94" y="1676.38" font-size="35.8" fill="#000"><tspan>Au</tspan></text>
<text x="325.92" y="1590.5" font-size="35.8" fill="#000"><tspan>6%-Au</tspan></text>
<text x="236.74" y="1619.57" font-size="35.8" fill="#000"><tspan>Pt</tspan></text>
<text x="206.7" y="1656.4" font-size="35.8" fill="#000"><tspan>Pd</tspan></text>
<text x="242.29" y="1760.6" font-size="35.8" fill="#000"><tspan>Ir</tspan></text>
<text x="158.42" y="1745.63" font-size="35.8" fill="#000"><tspan>Rh</tspan></text>
<text x="31.4" y="1670.85" font-size="40.66" fill="#000" transform="rotate(-90 31.4 1670.85)"><tspan font-style="italic">U</tspan><tspan font-size="27.65" dy="10.98">L</tspan><tspan dy="-10.98"> (V)</tspan></text>
<text x="266.88" y="1916.47" font-size="40.77" fill="#000"><tspan>Δ</tspan><tspan font-style="italic">G</tspan><tspan font-size="27.72" dy="11.01">*OOH</tspan><tspan dy="-11.01"> (eV)</tspan></text>
<text x="735.8" y="1430.73" font-size="54" fill="#000" font-weight="bold"><tspan>f</tspan></text>
<rect x="856.4" y="1407.9" width="508" height="412.4" fill="none" stroke="#000" stroke-width="1.6"/>
<line x1="849.4" y1="1795.3" x2="856.4" y2="1795.3" stroke="#000" stroke-width="1.6" />
<text x="792" y="1806.49" font-size="38" fill="#000"><tspan>0,0</tspan></text>
<line x1="849.4" y1="1690.67" x2="856.4" y2="1690.67" stroke="#000" stroke-width="1.6" />
<text x="792.38" y="1701.86" font-size="38" fill="#000"><tspan>0,1</tspan></text>
<line x1="849.4" y1="1586.04" x2="856.4" y2="1586.04" stroke="#000" stroke-width="1.6" />
<text x="792.38" y="1597.23" font-size="38" fill="#000"><tspan>0,2</tspan></text>
<line x1="849.4" y1="1481.41" x2="856.4" y2="1481.41" stroke="#000" stroke-width="1.6" />
<text x="792.19" y="1492.6" font-size="38" fill="#000"><tspan>0,3</tspan></text>
<line x1="852.4" y1="1742.98" x2="856.4" y2="1742.98" stroke="#000" stroke-width="1.6" />
<line x1="852.4" y1="1638.36" x2="856.4" y2="1638.36" stroke="#000" stroke-width="1.6" />
<line x1="852.4" y1="1533.72" x2="856.4" y2="1533.72" stroke="#000" stroke-width="1.6" />
<line x1="852.4" y1="1429.09" x2="856.4" y2="1429.09" stroke="#000" stroke-width="1.6" />
<line x1="856.4" y1="1795.3" x2="984" y2="1795.3" stroke="#000" stroke-width="2.2" />
<line x1="1236.5" y1="1795.3" x2="1364.4" y2="1795.3" stroke="#000" stroke-width="2.2" />
<line x1="984" y1="1795.3" x2="1236.5" y2="1795.3" stroke="#000" stroke-width="1.5" stroke-dasharray="7 5"/>
<line x1="1080.7" y1="1795.3" x2="1142" y2="1795.3" stroke="#000" stroke-width="2.2" />
<line x1="984" y1="1795.3" x2="1031" y2="1491.87" stroke="#008000" stroke-width="2" stroke-dasharray="7.5 5"/>
<line x1="1195" y1="1491.87" x2="1236.5" y2="1795.3" stroke="#008000" stroke-width="2" stroke-dasharray="7.5 5"/>
<line x1="1031" y1="1491.87" x2="1195" y2="1491.87" stroke="#008000" stroke-width="2.4" />
<line x1="984" y1="1795.3" x2="1048.9" y2="1596.5" stroke="#FF80FF" stroke-width="2" stroke-dasharray="7.5 5"/>
<line x1="1177.2" y1="1596.5" x2="1236.5" y2="1795.3" stroke="#FF80FF" stroke-width="2" stroke-dasharray="7.5 5"/>
<line x1="1048.9" y1="1596.5" x2="1177.2" y2="1596.5" stroke="#FF80FF" stroke-width="2.4" />
<line x1="984" y1="1795.3" x2="1064.3" y2="1690.67" stroke="#FF8000" stroke-width="2" stroke-dasharray="7.5 5"/>
<line x1="1156.2" y1="1690.67" x2="1236.5" y2="1795.3" stroke="#FF8000" stroke-width="2" stroke-dasharray="7.5 5"/>
<line x1="1064.3" y1="1690.67" x2="1156.2" y2="1690.67" stroke="#FF8000" stroke-width="2.4" />
<text x="1096.51" y="1443.83" font-size="38" fill="#008000"><tspan>Au</tspan></text>
<text x="1053.58" y="1485.61" font-size="38" fill="#008000"><tspan>0.29 eV</tspan></text>
<text x="1057.62" y="1547.56" font-size="38" fill="#FF80FF"><tspan>3%-Au</tspan></text>
<text x="1048.03" y="1589.61" font-size="38" fill="#FF80FF"><tspan>0.19 eV</tspan></text>
<text x="1055.23" y="1643.86" font-size="38" fill="#FF8000"><tspan>6%-Au</tspan></text>
<text x="1057.48" y="1685.91" font-size="38" fill="#FF8000"><tspan>0.1 eV</tspan></text>
<text x="1070.31" y="1788.28" font-size="38" fill="#000"><tspan>ideal</tspan></text>
<text x="1204.89" y="1450.71" font-size="38" fill="#000"><tspan font-style="italic">U</tspan><tspan>=0.70V</tspan></text>
<text x="744.23" y="1865.64" font-size="37.79" fill="#000"><tspan>*+O</tspan><tspan font-size="25.70" dy="10.20">2</tspan><tspan dy="-10.20">+2H</tspan><tspan font-size="24.94" dy="-15.12">+</tspan><tspan dy="15.12">+2e</tspan><tspan font-size="24.94" dy="-15.12">-</tspan></text>
<text x="1004.63" y="1864.99" font-size="37.9" fill="#000"><tspan>*OOH+H</tspan><tspan font-size="25.02" dy="-15.16">+</tspan><tspan dy="15.16">+e</tspan><tspan font-size="25.02" dy="-15.16">-</tspan></text>
<text x="1260.44" y="1861.68" font-size="37.11" fill="#000"><tspan>*+H</tspan><tspan font-size="25.23" dy="10.02">2</tspan><tspan dy="-10.02">O</tspan><tspan font-size="25.23" dy="10.02">2</tspan></text>
<text x="758.82" y="1687.62" font-size="40.65" fill="#000" transform="rotate(-90 758.82 1687.62)"><tspan>Δ</tspan><tspan font-style="italic">G</tspan><tspan> (eV)</tspan></text>
<text x="923.94" y="1917.42" font-size="40.77" fill="#000"><tspan>Reaction Coordinate</tspan></text>
</svg>
</body></html>
